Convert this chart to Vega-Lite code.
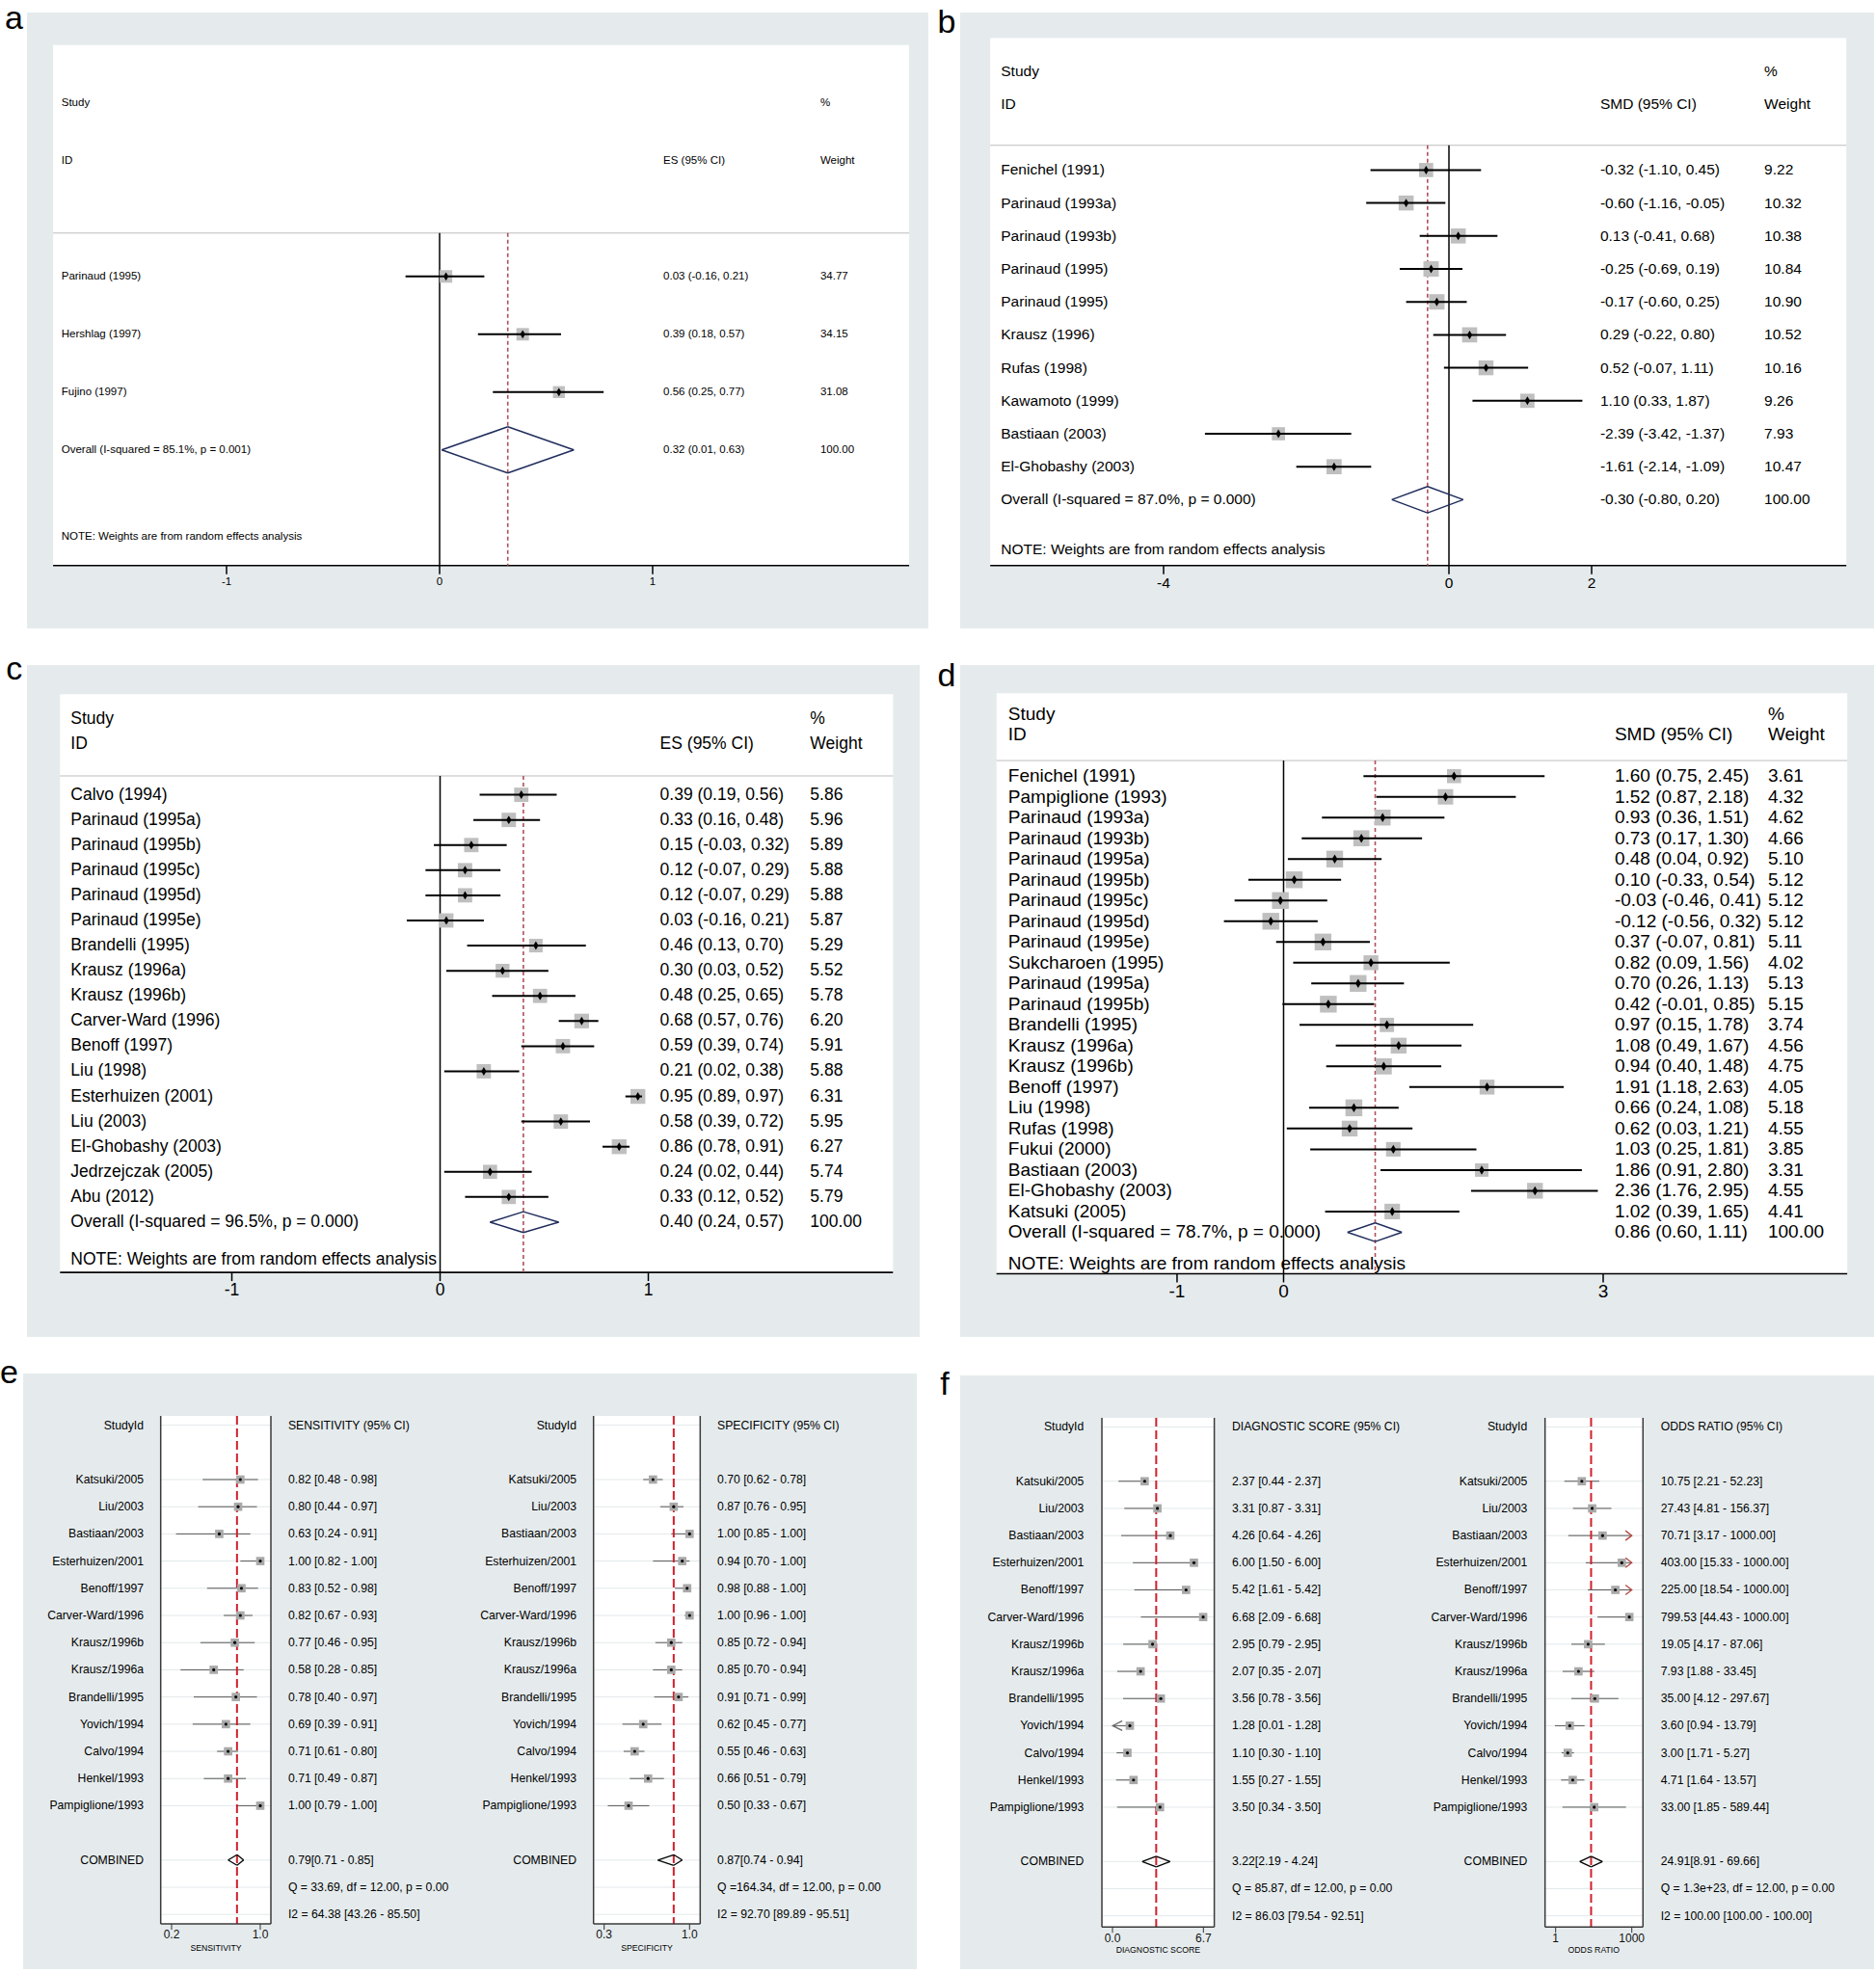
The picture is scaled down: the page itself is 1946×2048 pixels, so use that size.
{
"$schema":"https://vega.github.io/schema/vega-lite/v6.json",
"usermeta":{"embedOptions":{"actions":false}},
"background":"white",
"padding":0,
"config":{"view":{"stroke":null,"fill":null},"font":"Liberation Sans","text":{"font":"Liberation Sans"}},
"spacing":20,
"resolve":{"scale":{"size":"independent"}},
"datasets":{
"pa":[
{"row":-2,"c1":"Study","c3":"%"},
{"row":-1,"c1":"ID","c2":"ES (95% CI)","c3":"Weight"},
{"row":1,"kind":"study","c1":"Parinaud (1995)","c2":"0.03 (-0.16, 0.21)","c3":"34.77","es":0.03,"lo":-0.16,"hi":0.21,"w":34.77},
{"row":2,"kind":"study","c1":"Hershlag (1997)","c2":"0.39 (0.18, 0.57)","c3":"34.15","es":0.39,"lo":0.18,"hi":0.57,"w":34.15},
{"row":3,"kind":"study","c1":"Fujino (1997)","c2":"0.56 (0.25, 0.77)","c3":"31.08","es":0.56,"lo":0.25,"hi":0.77,"w":31.08},
{"row":4,"kind":"overall","c1":"Overall  (I-squared = 85.1%, p = 0.001)","c2":"0.32 (0.01, 0.63)","c3":"100.00","es":0.32,"lo":0.01,"hi":0.63},
{"row":5.5,"c1":"NOTE: Weights are from random effects analysis"}
],
"pb":[
{"row":-2,"c1":"Study","c3":"%"},
{"row":-1,"c1":"ID","c2":"SMD (95% CI)","c3":"Weight"},
{"row":1,"kind":"study","c1":"Fenichel (1991)","c2":"-0.32 (-1.10, 0.45)","c3":"9.22","es":-0.32,"lo":-1.10,"hi":0.45,"w":9.22},
{"row":2,"kind":"study","c1":"Parinaud (1993a)","c2":"-0.60 (-1.16, -0.05)","c3":"10.32","es":-0.60,"lo":-1.16,"hi":-0.05,"w":10.32},
{"row":3,"kind":"study","c1":"Parinaud (1993b)","c2":"0.13 (-0.41, 0.68)","c3":"10.38","es":0.13,"lo":-0.41,"hi":0.68,"w":10.38},
{"row":4,"kind":"study","c1":"Parinaud (1995)","c2":"-0.25 (-0.69, 0.19)","c3":"10.84","es":-0.25,"lo":-0.69,"hi":0.19,"w":10.84},
{"row":5,"kind":"study","c1":"Parinaud (1995)","c2":"-0.17 (-0.60, 0.25)","c3":"10.90","es":-0.17,"lo":-0.60,"hi":0.25,"w":10.90},
{"row":6,"kind":"study","c1":"Krausz (1996)","c2":"0.29 (-0.22, 0.80)","c3":"10.52","es":0.29,"lo":-0.22,"hi":0.80,"w":10.52},
{"row":7,"kind":"study","c1":"Rufas (1998)","c2":"0.52 (-0.07, 1.11)","c3":"10.16","es":0.52,"lo":-0.07,"hi":1.11,"w":10.16},
{"row":8,"kind":"study","c1":"Kawamoto (1999)","c2":"1.10 (0.33, 1.87)","c3":"9.26","es":1.10,"lo":0.33,"hi":1.87,"w":9.26},
{"row":9,"kind":"study","c1":"Bastiaan (2003)","c2":"-2.39 (-3.42, -1.37)","c3":"7.93","es":-2.39,"lo":-3.42,"hi":-1.37,"w":7.93},
{"row":10,"kind":"study","c1":"El-Ghobashy (2003)","c2":"-1.61 (-2.14, -1.09)","c3":"10.47","es":-1.61,"lo":-2.14,"hi":-1.09,"w":10.47},
{"row":11,"kind":"overall","c1":"Overall  (I-squared = 87.0%, p = 0.000)","c2":"-0.30 (-0.80, 0.20)","c3":"100.00","es":-0.30,"lo":-0.80,"hi":0.20},
{"row":12.5,"c1":"NOTE: Weights are from random effects analysis"}
],
"pc":[
{"row":-2,"c1":"Study","c3":"%"},
{"row":-1,"c1":"ID","c2":"ES (95% CI)","c3":"Weight"},
{"row":1,"kind":"study","c1":"Calvo (1994)","c2":"0.39 (0.19, 0.56)","c3":"5.86","es":0.39,"lo":0.19,"hi":0.56,"w":5.86},
{"row":2,"kind":"study","c1":"Parinaud (1995a)","c2":"0.33 (0.16, 0.48)","c3":"5.96","es":0.33,"lo":0.16,"hi":0.48,"w":5.96},
{"row":3,"kind":"study","c1":"Parinaud (1995b)","c2":"0.15 (-0.03, 0.32)","c3":"5.89","es":0.15,"lo":-0.03,"hi":0.32,"w":5.89},
{"row":4,"kind":"study","c1":"Parinaud (1995c)","c2":"0.12 (-0.07, 0.29)","c3":"5.88","es":0.12,"lo":-0.07,"hi":0.29,"w":5.88},
{"row":5,"kind":"study","c1":"Parinaud (1995d)","c2":"0.12 (-0.07, 0.29)","c3":"5.88","es":0.12,"lo":-0.07,"hi":0.29,"w":5.88},
{"row":6,"kind":"study","c1":"Parinaud (1995e)","c2":"0.03 (-0.16, 0.21)","c3":"5.87","es":0.03,"lo":-0.16,"hi":0.21,"w":5.87},
{"row":7,"kind":"study","c1":"Brandelli (1995)","c2":"0.46 (0.13, 0.70)","c3":"5.29","es":0.46,"lo":0.13,"hi":0.70,"w":5.29},
{"row":8,"kind":"study","c1":"Krausz (1996a)","c2":"0.30 (0.03, 0.52)","c3":"5.52","es":0.30,"lo":0.03,"hi":0.52,"w":5.52},
{"row":9,"kind":"study","c1":"Krausz (1996b)","c2":"0.48 (0.25, 0.65)","c3":"5.78","es":0.48,"lo":0.25,"hi":0.65,"w":5.78},
{"row":10,"kind":"study","c1":"Carver-Ward (1996)","c2":"0.68 (0.57, 0.76)","c3":"6.20","es":0.68,"lo":0.57,"hi":0.76,"w":6.20},
{"row":11,"kind":"study","c1":"Benoff (1997)","c2":"0.59 (0.39, 0.74)","c3":"5.91","es":0.59,"lo":0.39,"hi":0.74,"w":5.91},
{"row":12,"kind":"study","c1":"Liu (1998)","c2":"0.21 (0.02, 0.38)","c3":"5.88","es":0.21,"lo":0.02,"hi":0.38,"w":5.88},
{"row":13,"kind":"study","c1":"Esterhuizen (2001)","c2":"0.95 (0.89, 0.97)","c3":"6.31","es":0.95,"lo":0.89,"hi":0.97,"w":6.31},
{"row":14,"kind":"study","c1":"Liu (2003)","c2":"0.58 (0.39, 0.72)","c3":"5.95","es":0.58,"lo":0.39,"hi":0.72,"w":5.95},
{"row":15,"kind":"study","c1":"El-Ghobashy (2003)","c2":"0.86 (0.78, 0.91)","c3":"6.27","es":0.86,"lo":0.78,"hi":0.91,"w":6.27},
{"row":16,"kind":"study","c1":"Jedrzejczak (2005)","c2":"0.24 (0.02, 0.44)","c3":"5.74","es":0.24,"lo":0.02,"hi":0.44,"w":5.74},
{"row":17,"kind":"study","c1":"Abu (2012)","c2":"0.33 (0.12, 0.52)","c3":"5.79","es":0.33,"lo":0.12,"hi":0.52,"w":5.79},
{"row":18,"kind":"overall","c1":"Overall  (I-squared = 96.5%, p = 0.000)","c2":"0.40 (0.24, 0.57)","c3":"100.00","es":0.40,"lo":0.24,"hi":0.57},
{"row":19.5,"c1":"NOTE: Weights are from random effects analysis"}
],
"pd":[
{"row":-2,"c1":"Study","c3":"%"},
{"row":-1,"c1":"ID","c2":"SMD (95% CI)","c3":"Weight"},
{"row":1,"kind":"study","c1":"Fenichel (1991)","c2":"1.60 (0.75, 2.45)","c3":"3.61","es":1.60,"lo":0.75,"hi":2.45,"w":3.61},
{"row":2,"kind":"study","c1":"Pampiglione (1993)","c2":"1.52 (0.87, 2.18)","c3":"4.32","es":1.52,"lo":0.87,"hi":2.18,"w":4.32},
{"row":3,"kind":"study","c1":"Parinaud (1993a)","c2":"0.93 (0.36, 1.51)","c3":"4.62","es":0.93,"lo":0.36,"hi":1.51,"w":4.62},
{"row":4,"kind":"study","c1":"Parinaud (1993b)","c2":"0.73 (0.17, 1.30)","c3":"4.66","es":0.73,"lo":0.17,"hi":1.30,"w":4.66},
{"row":5,"kind":"study","c1":"Parinaud (1995a)","c2":"0.48 (0.04, 0.92)","c3":"5.10","es":0.48,"lo":0.04,"hi":0.92,"w":5.10},
{"row":6,"kind":"study","c1":"Parinaud (1995b)","c2":"0.10 (-0.33, 0.54)","c3":"5.12","es":0.10,"lo":-0.33,"hi":0.54,"w":5.12},
{"row":7,"kind":"study","c1":"Parinaud (1995c)","c2":"-0.03 (-0.46, 0.41)","c3":"5.12","es":-0.03,"lo":-0.46,"hi":0.41,"w":5.12},
{"row":8,"kind":"study","c1":"Parinaud (1995d)","c2":"-0.12 (-0.56, 0.32)","c3":"5.12","es":-0.12,"lo":-0.56,"hi":0.32,"w":5.12},
{"row":9,"kind":"study","c1":"Parinaud (1995e)","c2":"0.37 (-0.07, 0.81)","c3":"5.11","es":0.37,"lo":-0.07,"hi":0.81,"w":5.11},
{"row":10,"kind":"study","c1":"Sukcharoen (1995)","c2":"0.82 (0.09, 1.56)","c3":"4.02","es":0.82,"lo":0.09,"hi":1.56,"w":4.02},
{"row":11,"kind":"study","c1":"Parinaud (1995a)","c2":"0.70 (0.26, 1.13)","c3":"5.13","es":0.70,"lo":0.26,"hi":1.13,"w":5.13},
{"row":12,"kind":"study","c1":"Parinaud (1995b)","c2":"0.42 (-0.01, 0.85)","c3":"5.15","es":0.42,"lo":-0.01,"hi":0.85,"w":5.15},
{"row":13,"kind":"study","c1":"Brandelli (1995)","c2":"0.97 (0.15, 1.78)","c3":"3.74","es":0.97,"lo":0.15,"hi":1.78,"w":3.74},
{"row":14,"kind":"study","c1":"Krausz (1996a)","c2":"1.08 (0.49, 1.67)","c3":"4.56","es":1.08,"lo":0.49,"hi":1.67,"w":4.56},
{"row":15,"kind":"study","c1":"Krausz (1996b)","c2":"0.94 (0.40, 1.48)","c3":"4.75","es":0.94,"lo":0.40,"hi":1.48,"w":4.75},
{"row":16,"kind":"study","c1":"Benoff (1997)","c2":"1.91 (1.18, 2.63)","c3":"4.05","es":1.91,"lo":1.18,"hi":2.63,"w":4.05},
{"row":17,"kind":"study","c1":"Liu (1998)","c2":"0.66 (0.24, 1.08)","c3":"5.18","es":0.66,"lo":0.24,"hi":1.08,"w":5.18},
{"row":18,"kind":"study","c1":"Rufas (1998)","c2":"0.62 (0.03, 1.21)","c3":"4.55","es":0.62,"lo":0.03,"hi":1.21,"w":4.55},
{"row":19,"kind":"study","c1":"Fukui (2000)","c2":"1.03 (0.25, 1.81)","c3":"3.85","es":1.03,"lo":0.25,"hi":1.81,"w":3.85},
{"row":20,"kind":"study","c1":"Bastiaan (2003)","c2":"1.86 (0.91, 2.80)","c3":"3.31","es":1.86,"lo":0.91,"hi":2.80,"w":3.31},
{"row":21,"kind":"study","c1":"El-Ghobashy (2003)","c2":"2.36 (1.76, 2.95)","c3":"4.55","es":2.36,"lo":1.76,"hi":2.95,"w":4.55},
{"row":22,"kind":"study","c1":"Katsuki (2005)","c2":"1.02 (0.39, 1.65)","c3":"4.41","es":1.02,"lo":0.39,"hi":1.65,"w":4.41},
{"row":23,"kind":"overall","c1":"Overall  (I-squared = 78.7%, p = 0.000)","c2":"0.86 (0.60, 1.11)","c3":"100.00","es":0.86,"lo":0.60,"hi":1.11},
{"row":24.5,"c1":"NOTE: Weights are from random effects analysis"}
],
"sens":[
{"row":0,"c1":"StudyId","c2":"SENSITIVITY (95% CI)"},
{"row":2,"kind":"study","c1":"Katsuki/2005","c2":"0.82 [0.48 - 0.98]","est":0.82,"lo":0.48,"hi":0.98},
{"row":3,"kind":"study","c1":"Liu/2003","c2":"0.80 [0.44 - 0.97]","est":0.80,"lo":0.44,"hi":0.97},
{"row":4,"kind":"study","c1":"Bastiaan/2003","c2":"0.63 [0.24 - 0.91]","est":0.63,"lo":0.24,"hi":0.91},
{"row":5,"kind":"study","c1":"Esterhuizen/2001","c2":"1.00 [0.82 - 1.00]","est":1.00,"lo":0.82,"hi":1.00},
{"row":6,"kind":"study","c1":"Benoff/1997","c2":"0.83 [0.52 - 0.98]","est":0.83,"lo":0.52,"hi":0.98},
{"row":7,"kind":"study","c1":"Carver-Ward/1996","c2":"0.82 [0.67 - 0.93]","est":0.82,"lo":0.67,"hi":0.93},
{"row":8,"kind":"study","c1":"Krausz/1996b","c2":"0.77 [0.46 - 0.95]","est":0.77,"lo":0.46,"hi":0.95},
{"row":9,"kind":"study","c1":"Krausz/1996a","c2":"0.58 [0.28 - 0.85]","est":0.58,"lo":0.28,"hi":0.85},
{"row":10,"kind":"study","c1":"Brandelli/1995","c2":"0.78 [0.40 - 0.97]","est":0.78,"lo":0.40,"hi":0.97},
{"row":11,"kind":"study","c1":"Yovich/1994","c2":"0.69 [0.39 - 0.91]","est":0.69,"lo":0.39,"hi":0.91},
{"row":12,"kind":"study","c1":"Calvo/1994","c2":"0.71 [0.61 - 0.80]","est":0.71,"lo":0.61,"hi":0.80},
{"row":13,"kind":"study","c1":"Henkel/1993","c2":"0.71 [0.49 - 0.87]","est":0.71,"lo":0.49,"hi":0.87},
{"row":14,"kind":"study","c1":"Pampiglione/1993","c2":"1.00 [0.79 - 1.00]","est":1.00,"lo":0.79,"hi":1.00},
{"row":16,"kind":"combined","c1":"COMBINED","c2":"0.79[0.71 - 0.85]","est":0.79,"lo":0.71,"hi":0.85},
{"row":17,"c2":"Q = 33.69, df = 12.00, p =  0.00"},
{"row":18,"c2":"I2 = 64.38 [43.26 - 85.50]"}
],
"spec":[
{"row":0,"c1":"StudyId","c2":"SPECIFICITY (95% CI)"},
{"row":2,"kind":"study","c1":"Katsuki/2005","c2":"0.70 [0.62 - 0.78]","est":0.70,"lo":0.62,"hi":0.78},
{"row":3,"kind":"study","c1":"Liu/2003","c2":"0.87 [0.76 - 0.95]","est":0.87,"lo":0.76,"hi":0.95},
{"row":4,"kind":"study","c1":"Bastiaan/2003","c2":"1.00 [0.85 - 1.00]","est":1.00,"lo":0.85,"hi":1.00},
{"row":5,"kind":"study","c1":"Esterhuizen/2001","c2":"0.94 [0.70 - 1.00]","est":0.94,"lo":0.70,"hi":1.00},
{"row":6,"kind":"study","c1":"Benoff/1997","c2":"0.98 [0.88 - 1.00]","est":0.98,"lo":0.88,"hi":1.00},
{"row":7,"kind":"study","c1":"Carver-Ward/1996","c2":"1.00 [0.96 - 1.00]","est":1.00,"lo":0.96,"hi":1.00},
{"row":8,"kind":"study","c1":"Krausz/1996b","c2":"0.85 [0.72 - 0.94]","est":0.85,"lo":0.72,"hi":0.94},
{"row":9,"kind":"study","c1":"Krausz/1996a","c2":"0.85 [0.70 - 0.94]","est":0.85,"lo":0.70,"hi":0.94},
{"row":10,"kind":"study","c1":"Brandelli/1995","c2":"0.91 [0.71 - 0.99]","est":0.91,"lo":0.71,"hi":0.99},
{"row":11,"kind":"study","c1":"Yovich/1994","c2":"0.62 [0.45 - 0.77]","est":0.62,"lo":0.45,"hi":0.77},
{"row":12,"kind":"study","c1":"Calvo/1994","c2":"0.55 [0.46 - 0.63]","est":0.55,"lo":0.46,"hi":0.63},
{"row":13,"kind":"study","c1":"Henkel/1993","c2":"0.66 [0.51 - 0.79]","est":0.66,"lo":0.51,"hi":0.79},
{"row":14,"kind":"study","c1":"Pampiglione/1993","c2":"0.50 [0.33 - 0.67]","est":0.50,"lo":0.33,"hi":0.67},
{"row":16,"kind":"combined","c1":"COMBINED","c2":"0.87[0.74 - 0.94]","est":0.87,"lo":0.74,"hi":0.94},
{"row":17,"c2":"Q =164.34, df = 12.00, p =  0.00"},
{"row":18,"c2":"I2 = 92.70 [89.89 - 95.51]"}
],
"diag":[
{"row":0,"c1":"StudyId","c2":"DIAGNOSTIC SCORE (95% CI)"},
{"row":2,"kind":"study","c1":"Katsuki/2005","c2":"2.37 [0.44 - 2.37]","est":2.37,"lo":0.44,"hi":2.37},
{"row":3,"kind":"study","c1":"Liu/2003","c2":"3.31 [0.87 - 3.31]","est":3.31,"lo":0.87,"hi":3.31},
{"row":4,"kind":"study","c1":"Bastiaan/2003","c2":"4.26 [0.64 - 4.26]","est":4.26,"lo":0.64,"hi":4.26},
{"row":5,"kind":"study","c1":"Esterhuizen/2001","c2":"6.00 [1.50 - 6.00]","est":6.00,"lo":1.50,"hi":6.00},
{"row":6,"kind":"study","c1":"Benoff/1997","c2":"5.42 [1.61 - 5.42]","est":5.42,"lo":1.61,"hi":5.42},
{"row":7,"kind":"study","c1":"Carver-Ward/1996","c2":"6.68 [2.09 - 6.68]","est":6.68,"lo":2.09,"hi":6.68},
{"row":8,"kind":"study","c1":"Krausz/1996b","c2":"2.95 [0.79 - 2.95]","est":2.95,"lo":0.79,"hi":2.95},
{"row":9,"kind":"study","c1":"Krausz/1996a","c2":"2.07 [0.35 - 2.07]","est":2.07,"lo":0.35,"hi":2.07},
{"row":10,"kind":"study","c1":"Brandelli/1995","c2":"3.56 [0.78 - 3.56]","est":3.56,"lo":0.78,"hi":3.56},
{"row":11,"kind":"study","c1":"Yovich/1994","c2":"1.28 [0.01 - 1.28]","est":1.28,"lo":0.01,"hi":1.28,"arrowL":true},
{"row":12,"kind":"study","c1":"Calvo/1994","c2":"1.10 [0.30 - 1.10]","est":1.10,"lo":0.30,"hi":1.10},
{"row":13,"kind":"study","c1":"Henkel/1993","c2":"1.55 [0.27 - 1.55]","est":1.55,"lo":0.27,"hi":1.55},
{"row":14,"kind":"study","c1":"Pampiglione/1993","c2":"3.50 [0.34 - 3.50]","est":3.50,"lo":0.34,"hi":3.50},
{"row":16,"kind":"combined","c1":"COMBINED","c2":"3.22[2.19 - 4.24]","est":3.22,"lo":2.19,"hi":4.24},
{"row":17,"c2":"Q = 85.87, df = 12.00, p =  0.00"},
{"row":18,"c2":"I2 = 86.03 [79.54 - 92.51]"}
],
"odds":[
{"row":0,"c1":"StudyId","c2":"ODDS RATIO (95% CI)"},
{"row":2,"kind":"study","c1":"Katsuki/2005","c2":"10.75 [2.21 - 52.23]","est":10.75,"lo":2.21,"hi":52.23},
{"row":3,"kind":"study","c1":"Liu/2003","c2":"27.43 [4.81 - 156.37]","est":27.43,"lo":4.81,"hi":156.37},
{"row":4,"kind":"study","c1":"Bastiaan/2003","c2":"70.71 [3.17 - 1000.00]","est":70.71,"lo":3.17,"hi":1000,"arrowR":true},
{"row":5,"kind":"study","c1":"Esterhuizen/2001","c2":"403.00 [15.33 - 1000.00]","est":403.0,"lo":15.33,"hi":1000,"arrowR":true},
{"row":6,"kind":"study","c1":"Benoff/1997","c2":"225.00 [18.54 - 1000.00]","est":225.0,"lo":18.54,"hi":1000,"arrowR":true},
{"row":7,"kind":"study","c1":"Carver-Ward/1996","c2":"799.53 [44.43 - 1000.00]","est":799.53,"lo":44.43,"hi":1000},
{"row":8,"kind":"study","c1":"Krausz/1996b","c2":"19.05 [4.17 - 87.06]","est":19.05,"lo":4.17,"hi":87.06},
{"row":9,"kind":"study","c1":"Krausz/1996a","c2":"7.93 [1.88 - 33.45]","est":7.93,"lo":1.88,"hi":33.45},
{"row":10,"kind":"study","c1":"Brandelli/1995","c2":"35.00 [4.12 - 297.67]","est":35.0,"lo":4.12,"hi":297.67},
{"row":11,"kind":"study","c1":"Yovich/1994","c2":"3.60 [0.94 - 13.79]","est":3.60,"lo":0.94,"hi":13.79},
{"row":12,"kind":"study","c1":"Calvo/1994","c2":"3.00 [1.71 - 5.27]","est":3.00,"lo":1.71,"hi":5.27},
{"row":13,"kind":"study","c1":"Henkel/1993","c2":"4.71 [1.64 - 13.57]","est":4.71,"lo":1.64,"hi":13.57},
{"row":14,"kind":"study","c1":"Pampiglione/1993","c2":"33.00 [1.85 - 589.44]","est":33.0,"lo":1.85,"hi":589.44},
{"row":16,"kind":"combined","c1":"COMBINED","c2":"24.91[8.91 - 69.66]","est":24.91,"lo":8.91,"hi":69.66},
{"row":17,"c2":"Q = 1.3e+23, df = 12.00, p =  0.00"},
{"row":18,"c2":"I2 = 100.00 [100.00 - 100.00]"}
]
},
"vconcat":[
{"hconcat":[
{"width":962,"height":652,"data":{"name":"pa"},"layer":[
{"data":{"values":[{}]},"mark":{"type":"rect","fill":"#e5ebed"},"encoding":{"x":{"datum":-1.9367,"type":"quantitative","scale":{"domain":[-2.0588,2.2941],"nice":false,"zero":false},"axis":null},"x2":{"datum":2.2941},"y":{"datum":-3.563,"type":"quantitative","scale":{"domain":[-3.78,7.087],"nice":false,"zero":false,"reverse":true},"axis":null},"y2":{"datum":7.087}}},
{"data":{"values":[{"l":"a"}]},"mark":{"type":"text","fontSize":34,"baseline":"alphabetic","align":"center","color":"black"},"encoding":{"x":{"datum":-1.998,"type":"quantitative","scale":{"domain":[-2.0588,2.2941],"nice":false,"zero":false},"axis":null},"y":{"datum":-3.28,"type":"quantitative","scale":{"domain":[-3.78,7.087],"nice":false,"zero":false,"reverse":true},"axis":null},"text":{"field":"l","type":"nominal"}}},
{"data":{"values":[{}]},"mark":{"type":"rect","fill":"white"},"encoding":{"x":{"datum":-1.814,"type":"quantitative","scale":{"domain":[-2.0588,2.2941],"nice":false,"zero":false},"axis":null},"x2":{"datum":2.204},"y":{"datum":-3,"type":"quantitative","scale":{"domain":[-3.78,7.087],"nice":false,"zero":false,"reverse":true},"axis":null},"y2":{"datum":6}}},
{"data":{"values":[{}]},"mark":{"type":"rule","color":"#bdbdbd","strokeWidth":1},"encoding":{"x":{"datum":-1.814,"type":"quantitative","scale":{"domain":[-2.0588,2.2941],"nice":false,"zero":false},"axis":null},"x2":{"datum":2.204},"y":{"datum":0.25,"type":"quantitative","scale":{"domain":[-3.78,7.087],"nice":false,"zero":false,"reverse":true},"axis":null}}},
{"data":{"values":[{}]},"mark":{"type":"rule","color":"black","strokeWidth":1.6},"encoding":{"x":{"datum":-1.814,"type":"quantitative","scale":{"domain":[-2.0588,2.2941],"nice":false,"zero":false},"axis":null},"x2":{"datum":2.204},"y":{"datum":6,"type":"quantitative","scale":{"domain":[-3.78,7.087],"nice":false,"zero":false,"reverse":true},"axis":null}}},
{"data":{"values":[{"v":-1,"l":"-1"},{"v":0,"l":"0"},{"v":1,"l":"1"}]},"mark":{"type":"rule","color":"black","strokeWidth":1.5,"y2Offset":9},"encoding":{"x":{"field":"v","type":"quantitative","scale":{"domain":[-2.0588,2.2941],"nice":false,"zero":false},"axis":null},"y":{"datum":6,"type":"quantitative","scale":{"domain":[-3.78,7.087],"nice":false,"zero":false,"reverse":true},"axis":null},"y2":{"datum":6}}},
{"data":{"values":[{"v":-1,"l":"-1"},{"v":0,"l":"0"},{"v":1,"l":"1"}]},"mark":{"type":"text","baseline":"top","align":"center","dy":11,"fontSize":11.5,"color":"black"},"encoding":{"x":{"field":"v","type":"quantitative","scale":{"domain":[-2.0588,2.2941],"nice":false,"zero":false},"axis":null},"y":{"datum":6,"type":"quantitative","scale":{"domain":[-3.78,7.087],"nice":false,"zero":false,"reverse":true},"axis":null},"text":{"field":"l","type":"nominal"}}},
{"data":{"values":[{}]},"mark":{"type":"rule","color":"black","strokeWidth":1.5},"encoding":{"x":{"datum":0,"type":"quantitative","scale":{"domain":[-2.0588,2.2941],"nice":false,"zero":false},"axis":null},"y":{"datum":0.25,"type":"quantitative","scale":{"domain":[-3.78,7.087],"nice":false,"zero":false,"reverse":true},"axis":null},"y2":{"datum":6}}},
{"data":{"values":[{}]},"mark":{"type":"rule","color":"#b0505a","strokeWidth":1.6,"strokeDash":[4,3]},"encoding":{"x":{"datum":0.32,"type":"quantitative","scale":{"domain":[-2.0588,2.2941],"nice":false,"zero":false},"axis":null},"y":{"datum":0.25,"type":"quantitative","scale":{"domain":[-3.78,7.087],"nice":false,"zero":false,"reverse":true},"axis":null},"y2":{"datum":6}}},
{"transform":[{"filter":"datum.kind === 'study'"}],"mark":{"type":"square","filled":true,"color":"#bfbfbf","opacity":1},"encoding":{"x":{"field":"es","type":"quantitative","scale":{"domain":[-2.0588,2.2941],"nice":false,"zero":false},"axis":null},"y":{"field":"row","type":"quantitative","scale":{"domain":[-3.78,7.087],"nice":false,"zero":false,"reverse":true},"axis":null},"size":{"field":"w","type":"quantitative","scale":{"domain":[0,35],"range":[0,172]},"legend":null}}},
{"transform":[{"filter":"datum.kind === 'study'"}],"mark":{"type":"rule","color":"black","strokeWidth":2},"encoding":{"x":{"field":"lo","type":"quantitative","scale":{"domain":[-2.0588,2.2941],"nice":false,"zero":false},"axis":null},"x2":{"field":"hi"},"y":{"field":"row","type":"quantitative","scale":{"domain":[-3.78,7.087],"nice":false,"zero":false,"reverse":true},"axis":null}}},
{"transform":[{"filter":"datum.kind === 'study'"}],"mark":{"type":"point","shape":"M0,-1L0.6,0L0,1L-0.6,0Z","filled":true,"color":"black","size":76,"opacity":1},"encoding":{"x":{"field":"es","type":"quantitative","scale":{"domain":[-2.0588,2.2941],"nice":false,"zero":false},"axis":null},"y":{"field":"row","type":"quantitative","scale":{"domain":[-3.78,7.087],"nice":false,"zero":false,"reverse":true},"axis":null}}},
{"transform":[{"filter":"datum.kind === 'overall'"}],"mark":{"type":"rule","color":"#1f2d5c","strokeWidth":1.5,"y2Offset":-24},"encoding":{"x":{"field":"lo","type":"quantitative","scale":{"domain":[-2.0588,2.2941],"nice":false,"zero":false},"axis":null},"x2":{"field":"es"},"y":{"field":"row","type":"quantitative","scale":{"domain":[-3.78,7.087],"nice":false,"zero":false,"reverse":true},"axis":null},"y2":{"field":"row"}}},
{"transform":[{"filter":"datum.kind === 'overall'"}],"mark":{"type":"rule","color":"#1f2d5c","strokeWidth":1.5,"y2Offset":24},"encoding":{"x":{"field":"lo","type":"quantitative","scale":{"domain":[-2.0588,2.2941],"nice":false,"zero":false},"axis":null},"x2":{"field":"es"},"y":{"field":"row","type":"quantitative","scale":{"domain":[-3.78,7.087],"nice":false,"zero":false,"reverse":true},"axis":null},"y2":{"field":"row"}}},
{"transform":[{"filter":"datum.kind === 'overall'"}],"mark":{"type":"rule","color":"#1f2d5c","strokeWidth":1.5,"y2Offset":-24},"encoding":{"x":{"field":"hi","type":"quantitative","scale":{"domain":[-2.0588,2.2941],"nice":false,"zero":false},"axis":null},"x2":{"field":"es"},"y":{"field":"row","type":"quantitative","scale":{"domain":[-3.78,7.087],"nice":false,"zero":false,"reverse":true},"axis":null},"y2":{"field":"row"}}},
{"transform":[{"filter":"datum.kind === 'overall'"}],"mark":{"type":"rule","color":"#1f2d5c","strokeWidth":1.5,"y2Offset":24},"encoding":{"x":{"field":"hi","type":"quantitative","scale":{"domain":[-2.0588,2.2941],"nice":false,"zero":false},"axis":null},"x2":{"field":"es"},"y":{"field":"row","type":"quantitative","scale":{"domain":[-3.78,7.087],"nice":false,"zero":false,"reverse":true},"axis":null},"y2":{"field":"row"}}},
{"transform":[{"filter":"isValid(datum.c1)"}],"mark":{"type":"text","align":"left","baseline":"middle","fontSize":11.5,"color":"black"},"encoding":{"x":{"datum":-1.775,"type":"quantitative","scale":{"domain":[-2.0588,2.2941],"nice":false,"zero":false},"axis":null},"y":{"field":"row","type":"quantitative","scale":{"domain":[-3.78,7.087],"nice":false,"zero":false,"reverse":true},"axis":null},"text":{"field":"c1","type":"nominal"}}},
{"transform":[{"filter":"isValid(datum.c2)"}],"mark":{"type":"text","align":"left","baseline":"middle","fontSize":11.5,"color":"black"},"encoding":{"x":{"datum":1.05,"type":"quantitative","scale":{"domain":[-2.0588,2.2941],"nice":false,"zero":false},"axis":null},"y":{"field":"row","type":"quantitative","scale":{"domain":[-3.78,7.087],"nice":false,"zero":false,"reverse":true},"axis":null},"text":{"field":"c2","type":"nominal"}}},
{"transform":[{"filter":"isValid(datum.c3)"}],"mark":{"type":"text","align":"left","baseline":"middle","fontSize":11.5,"color":"black"},"encoding":{"x":{"datum":1.787,"type":"quantitative","scale":{"domain":[-2.0588,2.2941],"nice":false,"zero":false},"axis":null},"y":{"field":"row","type":"quantitative","scale":{"domain":[-3.78,7.087],"nice":false,"zero":false,"reverse":true},"axis":null},"text":{"field":"c3","type":"nominal"}}}
]},
{"width":981,"height":652,"data":{"name":"pb"},"layer":[
{"data":{"values":[{}]},"mark":{"type":"rect","fill":"#e5ebed"},"encoding":{"x":{"datum":-6.851,"type":"quantitative","scale":{"domain":[-7.297,5.959],"nice":false,"zero":false},"axis":null},"x2":{"datum":5.959},"y":{"datum":-3.778,"type":"quantitative","scale":{"domain":[-4.158,14.906],"nice":false,"zero":false,"reverse":true},"axis":null},"y2":{"datum":14.906}}},
{"data":{"values":[{"l":"b"}]},"mark":{"type":"text","fontSize":34,"baseline":"alphabetic","align":"center","color":"black"},"encoding":{"x":{"datum":-7.041,"type":"quantitative","scale":{"domain":[-7.297,5.959],"nice":false,"zero":false},"axis":null},"y":{"datum":-3.164,"type":"quantitative","scale":{"domain":[-4.158,14.906],"nice":false,"zero":false,"reverse":true},"axis":null},"text":{"field":"l","type":"nominal"}}},
{"data":{"values":[{}]},"mark":{"type":"rect","fill":"white"},"encoding":{"x":{"datum":-6.43,"type":"quantitative","scale":{"domain":[-7.297,5.959],"nice":false,"zero":false},"axis":null},"x2":{"datum":5.57},"y":{"datum":-3,"type":"quantitative","scale":{"domain":[-4.158,14.906],"nice":false,"zero":false,"reverse":true},"axis":null},"y2":{"datum":13}}},
{"data":{"values":[{}]},"mark":{"type":"rule","color":"#bdbdbd","strokeWidth":1},"encoding":{"x":{"datum":-6.43,"type":"quantitative","scale":{"domain":[-7.297,5.959],"nice":false,"zero":false},"axis":null},"x2":{"datum":5.57},"y":{"datum":0.25,"type":"quantitative","scale":{"domain":[-4.158,14.906],"nice":false,"zero":false,"reverse":true},"axis":null}}},
{"data":{"values":[{}]},"mark":{"type":"rule","color":"black","strokeWidth":1.6},"encoding":{"x":{"datum":-6.43,"type":"quantitative","scale":{"domain":[-7.297,5.959],"nice":false,"zero":false},"axis":null},"x2":{"datum":5.57},"y":{"datum":13,"type":"quantitative","scale":{"domain":[-4.158,14.906],"nice":false,"zero":false,"reverse":true},"axis":null}}},
{"data":{"values":[{"v":-4,"l":"-4"},{"v":0,"l":"0"},{"v":2,"l":"2"}]},"mark":{"type":"rule","color":"black","strokeWidth":1.5,"y2Offset":9},"encoding":{"x":{"field":"v","type":"quantitative","scale":{"domain":[-7.297,5.959],"nice":false,"zero":false},"axis":null},"y":{"datum":13,"type":"quantitative","scale":{"domain":[-4.158,14.906],"nice":false,"zero":false,"reverse":true},"axis":null},"y2":{"datum":13}}},
{"data":{"values":[{"v":-4,"l":"-4"},{"v":0,"l":"0"},{"v":2,"l":"2"}]},"mark":{"type":"text","baseline":"top","align":"center","dy":11,"fontSize":15.5,"color":"black"},"encoding":{"x":{"field":"v","type":"quantitative","scale":{"domain":[-7.297,5.959],"nice":false,"zero":false},"axis":null},"y":{"datum":13,"type":"quantitative","scale":{"domain":[-4.158,14.906],"nice":false,"zero":false,"reverse":true},"axis":null},"text":{"field":"l","type":"nominal"}}},
{"data":{"values":[{}]},"mark":{"type":"rule","color":"black","strokeWidth":1.5},"encoding":{"x":{"datum":0,"type":"quantitative","scale":{"domain":[-7.297,5.959],"nice":false,"zero":false},"axis":null},"y":{"datum":0.25,"type":"quantitative","scale":{"domain":[-4.158,14.906],"nice":false,"zero":false,"reverse":true},"axis":null},"y2":{"datum":13}}},
{"data":{"values":[{}]},"mark":{"type":"rule","color":"#b0505a","strokeWidth":1.6,"strokeDash":[4,3]},"encoding":{"x":{"datum":-0.30,"type":"quantitative","scale":{"domain":[-7.297,5.959],"nice":false,"zero":false},"axis":null},"y":{"datum":0.25,"type":"quantitative","scale":{"domain":[-4.158,14.906],"nice":false,"zero":false,"reverse":true},"axis":null},"y2":{"datum":13}}},
{"transform":[{"filter":"datum.kind === 'study'"}],"mark":{"type":"square","filled":true,"color":"#bfbfbf","opacity":1},"encoding":{"x":{"field":"es","type":"quantitative","scale":{"domain":[-7.297,5.959],"nice":false,"zero":false},"axis":null},"y":{"field":"row","type":"quantitative","scale":{"domain":[-4.158,14.906],"nice":false,"zero":false,"reverse":true},"axis":null},"size":{"field":"w","type":"quantitative","scale":{"domain":[0,10],"range":[0,235]},"legend":null}}},
{"transform":[{"filter":"datum.kind === 'study'"}],"mark":{"type":"rule","color":"black","strokeWidth":2},"encoding":{"x":{"field":"lo","type":"quantitative","scale":{"domain":[-7.297,5.959],"nice":false,"zero":false},"axis":null},"x2":{"field":"hi"},"y":{"field":"row","type":"quantitative","scale":{"domain":[-4.158,14.906],"nice":false,"zero":false,"reverse":true},"axis":null}}},
{"transform":[{"filter":"datum.kind === 'study'"}],"mark":{"type":"point","shape":"M0,-1L0.6,0L0,1L-0.6,0Z","filled":true,"color":"black","size":80,"opacity":1},"encoding":{"x":{"field":"es","type":"quantitative","scale":{"domain":[-7.297,5.959],"nice":false,"zero":false},"axis":null},"y":{"field":"row","type":"quantitative","scale":{"domain":[-4.158,14.906],"nice":false,"zero":false,"reverse":true},"axis":null}}},
{"transform":[{"filter":"datum.kind === 'overall'"}],"mark":{"type":"rule","color":"#1f2d5c","strokeWidth":1.5,"y2Offset":-13.7},"encoding":{"x":{"field":"lo","type":"quantitative","scale":{"domain":[-7.297,5.959],"nice":false,"zero":false},"axis":null},"x2":{"field":"es"},"y":{"field":"row","type":"quantitative","scale":{"domain":[-4.158,14.906],"nice":false,"zero":false,"reverse":true},"axis":null},"y2":{"field":"row"}}},
{"transform":[{"filter":"datum.kind === 'overall'"}],"mark":{"type":"rule","color":"#1f2d5c","strokeWidth":1.5,"y2Offset":13.7},"encoding":{"x":{"field":"lo","type":"quantitative","scale":{"domain":[-7.297,5.959],"nice":false,"zero":false},"axis":null},"x2":{"field":"es"},"y":{"field":"row","type":"quantitative","scale":{"domain":[-4.158,14.906],"nice":false,"zero":false,"reverse":true},"axis":null},"y2":{"field":"row"}}},
{"transform":[{"filter":"datum.kind === 'overall'"}],"mark":{"type":"rule","color":"#1f2d5c","strokeWidth":1.5,"y2Offset":-13.7},"encoding":{"x":{"field":"hi","type":"quantitative","scale":{"domain":[-7.297,5.959],"nice":false,"zero":false},"axis":null},"x2":{"field":"es"},"y":{"field":"row","type":"quantitative","scale":{"domain":[-4.158,14.906],"nice":false,"zero":false,"reverse":true},"axis":null},"y2":{"field":"row"}}},
{"transform":[{"filter":"datum.kind === 'overall'"}],"mark":{"type":"rule","color":"#1f2d5c","strokeWidth":1.5,"y2Offset":13.7},"encoding":{"x":{"field":"hi","type":"quantitative","scale":{"domain":[-7.297,5.959],"nice":false,"zero":false},"axis":null},"x2":{"field":"es"},"y":{"field":"row","type":"quantitative","scale":{"domain":[-4.158,14.906],"nice":false,"zero":false,"reverse":true},"axis":null},"y2":{"field":"row"}}},
{"transform":[{"filter":"isValid(datum.c1)"}],"mark":{"type":"text","align":"left","baseline":"middle","fontSize":15.5,"color":"black"},"encoding":{"x":{"datum":-6.28,"type":"quantitative","scale":{"domain":[-7.297,5.959],"nice":false,"zero":false},"axis":null},"y":{"field":"row","type":"quantitative","scale":{"domain":[-4.158,14.906],"nice":false,"zero":false,"reverse":true},"axis":null},"text":{"field":"c1","type":"nominal"}}},
{"transform":[{"filter":"isValid(datum.c2)"}],"mark":{"type":"text","align":"left","baseline":"middle","fontSize":15.5,"color":"black"},"encoding":{"x":{"datum":2.12,"type":"quantitative","scale":{"domain":[-7.297,5.959],"nice":false,"zero":false},"axis":null},"y":{"field":"row","type":"quantitative","scale":{"domain":[-4.158,14.906],"nice":false,"zero":false,"reverse":true},"axis":null},"text":{"field":"c2","type":"nominal"}}},
{"transform":[{"filter":"isValid(datum.c3)"}],"mark":{"type":"text","align":"left","baseline":"middle","fontSize":15.5,"color":"black"},"encoding":{"x":{"datum":4.42,"type":"quantitative","scale":{"domain":[-7.297,5.959],"nice":false,"zero":false},"axis":null},"y":{"field":"row","type":"quantitative","scale":{"domain":[-4.158,14.906],"nice":false,"zero":false,"reverse":true},"axis":null},"text":{"field":"c3","type":"nominal"}}}
]}
],"spacing":0,"resolve":{"scale":{"size":"independent"}}},
{"hconcat":[
{"width":953,"height":715,"data":{"name":"pc"},"layer":[
{"data":{"values":[{}]},"mark":{"type":"rect","fill":"#e5ebed"},"encoding":{"x":{"datum":-1.9838,"type":"quantitative","scale":{"domain":[-2.1088,2.3032],"nice":false,"zero":false},"axis":null},"x2":{"datum":2.3032},"y":{"datum":-4.16,"type":"quantitative","scale":{"domain":[-4.85,22.565],"nice":false,"zero":false,"reverse":true},"axis":null},"y2":{"datum":22.565}}},
{"data":{"values":[{"l":"c"}]},"mark":{"type":"text","fontSize":34,"baseline":"alphabetic","align":"center","color":"black"},"encoding":{"x":{"datum":-2.0454,"type":"quantitative","scale":{"domain":[-2.1088,2.3032],"nice":false,"zero":false},"axis":null},"y":{"datum":-3.585,"type":"quantitative","scale":{"domain":[-4.85,22.565],"nice":false,"zero":false,"reverse":true},"axis":null},"text":{"field":"l","type":"nominal"}}},
{"data":{"values":[{}]},"mark":{"type":"rect","fill":"white"},"encoding":{"x":{"datum":-1.825,"type":"quantitative","scale":{"domain":[-2.1088,2.3032],"nice":false,"zero":false},"axis":null},"x2":{"datum":2.175},"y":{"datum":-3,"type":"quantitative","scale":{"domain":[-4.85,22.565],"nice":false,"zero":false,"reverse":true},"axis":null},"y2":{"datum":20}}},
{"data":{"values":[{}]},"mark":{"type":"rule","color":"#bdbdbd","strokeWidth":1},"encoding":{"x":{"datum":-1.825,"type":"quantitative","scale":{"domain":[-2.1088,2.3032],"nice":false,"zero":false},"axis":null},"x2":{"datum":2.175},"y":{"datum":0.25,"type":"quantitative","scale":{"domain":[-4.85,22.565],"nice":false,"zero":false,"reverse":true},"axis":null}}},
{"data":{"values":[{}]},"mark":{"type":"rule","color":"black","strokeWidth":1.6},"encoding":{"x":{"datum":-1.825,"type":"quantitative","scale":{"domain":[-2.1088,2.3032],"nice":false,"zero":false},"axis":null},"x2":{"datum":2.175},"y":{"datum":20,"type":"quantitative","scale":{"domain":[-4.85,22.565],"nice":false,"zero":false,"reverse":true},"axis":null}}},
{"data":{"values":[{"v":-1,"l":"-1"},{"v":0,"l":"0"},{"v":1,"l":"1"}]},"mark":{"type":"rule","color":"black","strokeWidth":1.5,"y2Offset":9},"encoding":{"x":{"field":"v","type":"quantitative","scale":{"domain":[-2.1088,2.3032],"nice":false,"zero":false},"axis":null},"y":{"datum":20,"type":"quantitative","scale":{"domain":[-4.85,22.565],"nice":false,"zero":false,"reverse":true},"axis":null},"y2":{"datum":20}}},
{"data":{"values":[{"v":-1,"l":"-1"},{"v":0,"l":"0"},{"v":1,"l":"1"}]},"mark":{"type":"text","baseline":"top","align":"center","dy":10,"fontSize":17.5,"color":"black"},"encoding":{"x":{"field":"v","type":"quantitative","scale":{"domain":[-2.1088,2.3032],"nice":false,"zero":false},"axis":null},"y":{"datum":20,"type":"quantitative","scale":{"domain":[-4.85,22.565],"nice":false,"zero":false,"reverse":true},"axis":null},"text":{"field":"l","type":"nominal"}}},
{"data":{"values":[{}]},"mark":{"type":"rule","color":"black","strokeWidth":1.5},"encoding":{"x":{"datum":0,"type":"quantitative","scale":{"domain":[-2.1088,2.3032],"nice":false,"zero":false},"axis":null},"y":{"datum":0.25,"type":"quantitative","scale":{"domain":[-4.85,22.565],"nice":false,"zero":false,"reverse":true},"axis":null},"y2":{"datum":20}}},
{"data":{"values":[{}]},"mark":{"type":"rule","color":"#b0505a","strokeWidth":1.6,"strokeDash":[4,3]},"encoding":{"x":{"datum":0.40,"type":"quantitative","scale":{"domain":[-2.1088,2.3032],"nice":false,"zero":false},"axis":null},"y":{"datum":0.25,"type":"quantitative","scale":{"domain":[-4.85,22.565],"nice":false,"zero":false,"reverse":true},"axis":null},"y2":{"datum":20}}},
{"transform":[{"filter":"datum.kind === 'study'"}],"mark":{"type":"square","filled":true,"color":"#bfbfbf","opacity":1},"encoding":{"x":{"field":"es","type":"quantitative","scale":{"domain":[-2.1088,2.3032],"nice":false,"zero":false},"axis":null},"y":{"field":"row","type":"quantitative","scale":{"domain":[-4.85,22.565],"nice":false,"zero":false,"reverse":true},"axis":null},"size":{"field":"w","type":"quantitative","scale":{"domain":[0,6],"range":[0,225]},"legend":null}}},
{"transform":[{"filter":"datum.kind === 'study'"}],"mark":{"type":"rule","color":"black","strokeWidth":2},"encoding":{"x":{"field":"lo","type":"quantitative","scale":{"domain":[-2.1088,2.3032],"nice":false,"zero":false},"axis":null},"x2":{"field":"hi"},"y":{"field":"row","type":"quantitative","scale":{"domain":[-4.85,22.565],"nice":false,"zero":false,"reverse":true},"axis":null}}},
{"transform":[{"filter":"datum.kind === 'study'"}],"mark":{"type":"point","shape":"M0,-1L0.6,0L0,1L-0.6,0Z","filled":true,"color":"black","size":80,"opacity":1},"encoding":{"x":{"field":"es","type":"quantitative","scale":{"domain":[-2.1088,2.3032],"nice":false,"zero":false},"axis":null},"y":{"field":"row","type":"quantitative","scale":{"domain":[-4.85,22.565],"nice":false,"zero":false,"reverse":true},"axis":null}}},
{"transform":[{"filter":"datum.kind === 'overall'"}],"mark":{"type":"rule","color":"#1f2d5c","strokeWidth":1.5,"y2Offset":-10.8},"encoding":{"x":{"field":"lo","type":"quantitative","scale":{"domain":[-2.1088,2.3032],"nice":false,"zero":false},"axis":null},"x2":{"field":"es"},"y":{"field":"row","type":"quantitative","scale":{"domain":[-4.85,22.565],"nice":false,"zero":false,"reverse":true},"axis":null},"y2":{"field":"row"}}},
{"transform":[{"filter":"datum.kind === 'overall'"}],"mark":{"type":"rule","color":"#1f2d5c","strokeWidth":1.5,"y2Offset":10.8},"encoding":{"x":{"field":"lo","type":"quantitative","scale":{"domain":[-2.1088,2.3032],"nice":false,"zero":false},"axis":null},"x2":{"field":"es"},"y":{"field":"row","type":"quantitative","scale":{"domain":[-4.85,22.565],"nice":false,"zero":false,"reverse":true},"axis":null},"y2":{"field":"row"}}},
{"transform":[{"filter":"datum.kind === 'overall'"}],"mark":{"type":"rule","color":"#1f2d5c","strokeWidth":1.5,"y2Offset":-10.8},"encoding":{"x":{"field":"hi","type":"quantitative","scale":{"domain":[-2.1088,2.3032],"nice":false,"zero":false},"axis":null},"x2":{"field":"es"},"y":{"field":"row","type":"quantitative","scale":{"domain":[-4.85,22.565],"nice":false,"zero":false,"reverse":true},"axis":null},"y2":{"field":"row"}}},
{"transform":[{"filter":"datum.kind === 'overall'"}],"mark":{"type":"rule","color":"#1f2d5c","strokeWidth":1.5,"y2Offset":10.8},"encoding":{"x":{"field":"hi","type":"quantitative","scale":{"domain":[-2.1088,2.3032],"nice":false,"zero":false},"axis":null},"x2":{"field":"es"},"y":{"field":"row","type":"quantitative","scale":{"domain":[-4.85,22.565],"nice":false,"zero":false,"reverse":true},"axis":null},"y2":{"field":"row"}}},
{"transform":[{"filter":"isValid(datum.c1)"}],"mark":{"type":"text","align":"left","baseline":"middle","fontSize":17.5,"color":"black"},"encoding":{"x":{"datum":-1.774,"type":"quantitative","scale":{"domain":[-2.1088,2.3032],"nice":false,"zero":false},"axis":null},"y":{"field":"row","type":"quantitative","scale":{"domain":[-4.85,22.565],"nice":false,"zero":false,"reverse":true},"axis":null},"text":{"field":"c1","type":"nominal"}}},
{"transform":[{"filter":"isValid(datum.c2)"}],"mark":{"type":"text","align":"left","baseline":"middle","fontSize":17.5,"color":"black"},"encoding":{"x":{"datum":1.056,"type":"quantitative","scale":{"domain":[-2.1088,2.3032],"nice":false,"zero":false},"axis":null},"y":{"field":"row","type":"quantitative","scale":{"domain":[-4.85,22.565],"nice":false,"zero":false,"reverse":true},"axis":null},"text":{"field":"c2","type":"nominal"}}},
{"transform":[{"filter":"isValid(datum.c3)"}],"mark":{"type":"text","align":"left","baseline":"middle","fontSize":17.5,"color":"black"},"encoding":{"x":{"datum":1.777,"type":"quantitative","scale":{"domain":[-2.1088,2.3032],"nice":false,"zero":false},"axis":null},"y":{"field":"row","type":"quantitative","scale":{"domain":[-4.85,22.565],"nice":false,"zero":false,"reverse":true},"axis":null},"text":{"field":"c3","type":"nominal"}}}
]},
{"width":990,"height":715,"data":{"name":"pd"},"layer":[
{"data":{"values":[{}]},"mark":{"type":"rect","fill":"#e5ebed"},"encoding":{"x":{"datum":-3.036,"type":"quantitative","scale":{"domain":[-3.416,5.543],"nice":false,"zero":false},"axis":null},"x2":{"datum":5.543},"y":{"datum":-4.356,"type":"quantitative","scale":{"domain":[-5.193,28.048],"nice":false,"zero":false,"reverse":true},"axis":null},"y2":{"datum":28.048}}},
{"data":{"values":[{"l":"d"}]},"mark":{"type":"text","fontSize":34,"baseline":"alphabetic","align":"center","color":"black"},"encoding":{"x":{"datum":-3.163,"type":"quantitative","scale":{"domain":[-3.416,5.543],"nice":false,"zero":false},"axis":null},"y":{"datum":-3.333,"type":"quantitative","scale":{"domain":[-5.193,28.048],"nice":false,"zero":false,"reverse":true},"axis":null},"text":{"field":"l","type":"nominal"}}},
{"data":{"values":[{}]},"mark":{"type":"rect","fill":"white"},"encoding":{"x":{"datum":-2.695,"type":"quantitative","scale":{"domain":[-3.416,5.543],"nice":false,"zero":false},"axis":null},"x2":{"datum":5.291},"y":{"datum":-3,"type":"quantitative","scale":{"domain":[-5.193,28.048],"nice":false,"zero":false,"reverse":true},"axis":null},"y2":{"datum":25}}},
{"data":{"values":[{}]},"mark":{"type":"rule","color":"#bdbdbd","strokeWidth":1},"encoding":{"x":{"datum":-2.695,"type":"quantitative","scale":{"domain":[-3.416,5.543],"nice":false,"zero":false},"axis":null},"x2":{"datum":5.291},"y":{"datum":0.25,"type":"quantitative","scale":{"domain":[-5.193,28.048],"nice":false,"zero":false,"reverse":true},"axis":null}}},
{"data":{"values":[{}]},"mark":{"type":"rule","color":"black","strokeWidth":1.6},"encoding":{"x":{"datum":-2.695,"type":"quantitative","scale":{"domain":[-3.416,5.543],"nice":false,"zero":false},"axis":null},"x2":{"datum":5.291},"y":{"datum":25,"type":"quantitative","scale":{"domain":[-5.193,28.048],"nice":false,"zero":false,"reverse":true},"axis":null}}},
{"data":{"values":[{"v":-1,"l":"-1"},{"v":0,"l":"0"},{"v":3,"l":"3"}]},"mark":{"type":"rule","color":"black","strokeWidth":1.5,"y2Offset":9},"encoding":{"x":{"field":"v","type":"quantitative","scale":{"domain":[-3.416,5.543],"nice":false,"zero":false},"axis":null},"y":{"datum":25,"type":"quantitative","scale":{"domain":[-5.193,28.048],"nice":false,"zero":false,"reverse":true},"axis":null},"y2":{"datum":25}}},
{"data":{"values":[{"v":-1,"l":"-1"},{"v":0,"l":"0"},{"v":3,"l":"3"}]},"mark":{"type":"text","baseline":"top","align":"center","dy":10,"fontSize":19,"color":"black"},"encoding":{"x":{"field":"v","type":"quantitative","scale":{"domain":[-3.416,5.543],"nice":false,"zero":false},"axis":null},"y":{"datum":25,"type":"quantitative","scale":{"domain":[-5.193,28.048],"nice":false,"zero":false,"reverse":true},"axis":null},"text":{"field":"l","type":"nominal"}}},
{"data":{"values":[{}]},"mark":{"type":"rule","color":"black","strokeWidth":1.5},"encoding":{"x":{"datum":0,"type":"quantitative","scale":{"domain":[-3.416,5.543],"nice":false,"zero":false},"axis":null},"y":{"datum":0.25,"type":"quantitative","scale":{"domain":[-5.193,28.048],"nice":false,"zero":false,"reverse":true},"axis":null},"y2":{"datum":25}}},
{"data":{"values":[{}]},"mark":{"type":"rule","color":"#b0505a","strokeWidth":1.6,"strokeDash":[4,3]},"encoding":{"x":{"datum":0.86,"type":"quantitative","scale":{"domain":[-3.416,5.543],"nice":false,"zero":false},"axis":null},"y":{"datum":0.25,"type":"quantitative","scale":{"domain":[-5.193,28.048],"nice":false,"zero":false,"reverse":true},"axis":null},"y2":{"datum":25}}},
{"transform":[{"filter":"datum.kind === 'study'"}],"mark":{"type":"square","filled":true,"color":"#bfbfbf","opacity":1},"encoding":{"x":{"field":"es","type":"quantitative","scale":{"domain":[-3.416,5.543],"nice":false,"zero":false},"axis":null},"y":{"field":"row","type":"quantitative","scale":{"domain":[-5.193,28.048],"nice":false,"zero":false,"reverse":true},"axis":null},"size":{"field":"w","type":"quantitative","scale":{"domain":[0,5],"range":[0,295]},"legend":null}}},
{"transform":[{"filter":"datum.kind === 'study'"}],"mark":{"type":"rule","color":"black","strokeWidth":2},"encoding":{"x":{"field":"lo","type":"quantitative","scale":{"domain":[-3.416,5.543],"nice":false,"zero":false},"axis":null},"x2":{"field":"hi"},"y":{"field":"row","type":"quantitative","scale":{"domain":[-5.193,28.048],"nice":false,"zero":false,"reverse":true},"axis":null}}},
{"transform":[{"filter":"datum.kind === 'study'"}],"mark":{"type":"point","shape":"M0,-1L0.6,0L0,1L-0.6,0Z","filled":true,"color":"black","size":90,"opacity":1},"encoding":{"x":{"field":"es","type":"quantitative","scale":{"domain":[-3.416,5.543],"nice":false,"zero":false},"axis":null},"y":{"field":"row","type":"quantitative","scale":{"domain":[-5.193,28.048],"nice":false,"zero":false,"reverse":true},"axis":null}}},
{"transform":[{"filter":"datum.kind === 'overall'"}],"mark":{"type":"rule","color":"#1f2d5c","strokeWidth":1.5,"y2Offset":-9.7},"encoding":{"x":{"field":"lo","type":"quantitative","scale":{"domain":[-3.416,5.543],"nice":false,"zero":false},"axis":null},"x2":{"field":"es"},"y":{"field":"row","type":"quantitative","scale":{"domain":[-5.193,28.048],"nice":false,"zero":false,"reverse":true},"axis":null},"y2":{"field":"row"}}},
{"transform":[{"filter":"datum.kind === 'overall'"}],"mark":{"type":"rule","color":"#1f2d5c","strokeWidth":1.5,"y2Offset":9.7},"encoding":{"x":{"field":"lo","type":"quantitative","scale":{"domain":[-3.416,5.543],"nice":false,"zero":false},"axis":null},"x2":{"field":"es"},"y":{"field":"row","type":"quantitative","scale":{"domain":[-5.193,28.048],"nice":false,"zero":false,"reverse":true},"axis":null},"y2":{"field":"row"}}},
{"transform":[{"filter":"datum.kind === 'overall'"}],"mark":{"type":"rule","color":"#1f2d5c","strokeWidth":1.5,"y2Offset":-9.7},"encoding":{"x":{"field":"hi","type":"quantitative","scale":{"domain":[-3.416,5.543],"nice":false,"zero":false},"axis":null},"x2":{"field":"es"},"y":{"field":"row","type":"quantitative","scale":{"domain":[-5.193,28.048],"nice":false,"zero":false,"reverse":true},"axis":null},"y2":{"field":"row"}}},
{"transform":[{"filter":"datum.kind === 'overall'"}],"mark":{"type":"rule","color":"#1f2d5c","strokeWidth":1.5,"y2Offset":9.7},"encoding":{"x":{"field":"hi","type":"quantitative","scale":{"domain":[-3.416,5.543],"nice":false,"zero":false},"axis":null},"x2":{"field":"es"},"y":{"field":"row","type":"quantitative","scale":{"domain":[-5.193,28.048],"nice":false,"zero":false,"reverse":true},"axis":null},"y2":{"field":"row"}}},
{"transform":[{"filter":"isValid(datum.c1)"}],"mark":{"type":"text","align":"left","baseline":"middle","fontSize":19,"color":"black"},"encoding":{"x":{"datum":-2.585,"type":"quantitative","scale":{"domain":[-3.416,5.543],"nice":false,"zero":false},"axis":null},"y":{"field":"row","type":"quantitative","scale":{"domain":[-5.193,28.048],"nice":false,"zero":false,"reverse":true},"axis":null},"text":{"field":"c1","type":"nominal"}}},
{"transform":[{"filter":"isValid(datum.c2)"}],"mark":{"type":"text","align":"left","baseline":"middle","fontSize":19,"color":"black"},"encoding":{"x":{"datum":3.108,"type":"quantitative","scale":{"domain":[-3.416,5.543],"nice":false,"zero":false},"axis":null},"y":{"field":"row","type":"quantitative","scale":{"domain":[-5.193,28.048],"nice":false,"zero":false,"reverse":true},"axis":null},"text":{"field":"c2","type":"nominal"}}},
{"transform":[{"filter":"isValid(datum.c3)"}],"mark":{"type":"text","align":"left","baseline":"middle","fontSize":19,"color":"black"},"encoding":{"x":{"datum":4.547,"type":"quantitative","scale":{"domain":[-3.416,5.543],"nice":false,"zero":false},"axis":null},"y":{"field":"row","type":"quantitative","scale":{"domain":[-5.193,28.048],"nice":false,"zero":false,"reverse":true},"axis":null},"text":{"field":"c3","type":"nominal"}}}
]}
],"spacing":0,"resolve":{"scale":{"size":"independent"}}},
{"hconcat":[
{"width":480,"height":636,"data":{"name":"sens"},"layer":[
{"data":{"values":[{}]},"mark":{"type":"rect","fill":"#e5ebed"},"encoding":{"x":{"datum":-1.1391,"type":"quantitative","scale":{"domain":[-1.3391,2.8348],"nice":false,"zero":false},"axis":null},"x2":{"datum":2.8348},"y":{"datum":-1.901,"type":"quantitative","scale":{"domain":[-2.539,20.014],"nice":false,"zero":false,"reverse":true},"axis":null},"y2":{"datum":20.014}}},
{"data":{"values":[{"l":"e"}]},"mark":{"type":"text","fontSize":34,"baseline":"alphabetic","align":"center","color":"black"},"encoding":{"x":{"datum":-1.2652,"type":"quantitative","scale":{"domain":[-1.3391,2.8348],"nice":false,"zero":false},"axis":null},"y":{"datum":-1.546,"type":"quantitative","scale":{"domain":[-2.539,20.014],"nice":false,"zero":false,"reverse":true},"axis":null},"text":{"field":"l","type":"nominal"}}},
{"data":{"values":[{}]},"mark":{"type":"rect","fill":"white"},"encoding":{"x":{"datum":0.1017,"type":"quantitative","scale":{"domain":[-1.3391,2.8348],"nice":false,"zero":false},"axis":null},"x2":{"datum":1.0957},"y":{"datum":-0.34,"type":"quantitative","scale":{"domain":[-2.539,20.014],"nice":false,"zero":false,"reverse":true},"axis":null},"y2":{"datum":18.35}}},
{"mark":{"type":"rule","color":"#e3e8ea","strokeWidth":1},"encoding":{"x":{"datum":0.1017,"type":"quantitative","scale":{"domain":[-1.3391,2.8348],"nice":false,"zero":false},"axis":null},"x2":{"datum":1.0957},"y":{"field":"row","type":"quantitative","scale":{"domain":[-2.539,20.014],"nice":false,"zero":false,"reverse":true},"axis":null}}},
{"transform":[{"filter":"datum.kind === 'study'"}],"mark":{"type":"rule","color":"#555555","strokeWidth":1},"encoding":{"x":{"field":"lo","type":"quantitative","scale":{"domain":[-1.3391,2.8348],"nice":false,"zero":false},"axis":null},"x2":{"field":"hi"},"y":{"field":"row","type":"quantitative","scale":{"domain":[-2.539,20.014],"nice":false,"zero":false,"reverse":true},"axis":null}}},
{"data":{"values":[{}]},"mark":{"type":"rule","color":"#d0202e","strokeWidth":2,"strokeDash":[9,4]},"encoding":{"x":{"datum":0.79,"type":"quantitative","scale":{"domain":[-1.3391,2.8348],"nice":false,"zero":false},"axis":null},"y":{"datum":-0.34,"type":"quantitative","scale":{"domain":[-2.539,20.014],"nice":false,"zero":false,"reverse":true},"axis":null},"y2":{"datum":18.35}}},
{"transform":[{"filter":"datum.kind === 'study'"}],"mark":{"type":"square","filled":true,"color":"#a9a9a9","size":75,"opacity":1},"encoding":{"x":{"field":"est","type":"quantitative","scale":{"domain":[-1.3391,2.8348],"nice":false,"zero":false},"axis":null},"y":{"field":"row","type":"quantitative","scale":{"domain":[-2.539,20.014],"nice":false,"zero":false,"reverse":true},"axis":null}}},
{"transform":[{"filter":"datum.kind === 'study'"}],"mark":{"type":"circle","color":"black","size":10,"opacity":1},"encoding":{"x":{"field":"est","type":"quantitative","scale":{"domain":[-1.3391,2.8348],"nice":false,"zero":false},"axis":null},"y":{"field":"row","type":"quantitative","scale":{"domain":[-2.539,20.014],"nice":false,"zero":false,"reverse":true},"axis":null}}},
{"transform":[{"filter":"datum.kind === 'combined'"}],"mark":{"type":"rule","color":"black","strokeWidth":1.3,"y2Offset":-5.5},"encoding":{"x":{"field":"lo","type":"quantitative","scale":{"domain":[-1.3391,2.8348],"nice":false,"zero":false},"axis":null},"x2":{"field":"est"},"y":{"field":"row","type":"quantitative","scale":{"domain":[-2.539,20.014],"nice":false,"zero":false,"reverse":true},"axis":null},"y2":{"field":"row"}}},
{"transform":[{"filter":"datum.kind === 'combined'"}],"mark":{"type":"rule","color":"black","strokeWidth":1.3,"y2Offset":5.5},"encoding":{"x":{"field":"lo","type":"quantitative","scale":{"domain":[-1.3391,2.8348],"nice":false,"zero":false},"axis":null},"x2":{"field":"est"},"y":{"field":"row","type":"quantitative","scale":{"domain":[-2.539,20.014],"nice":false,"zero":false,"reverse":true},"axis":null},"y2":{"field":"row"}}},
{"transform":[{"filter":"datum.kind === 'combined'"}],"mark":{"type":"rule","color":"black","strokeWidth":1.3,"y2Offset":-5.5},"encoding":{"x":{"field":"hi","type":"quantitative","scale":{"domain":[-1.3391,2.8348],"nice":false,"zero":false},"axis":null},"x2":{"field":"est"},"y":{"field":"row","type":"quantitative","scale":{"domain":[-2.539,20.014],"nice":false,"zero":false,"reverse":true},"axis":null},"y2":{"field":"row"}}},
{"transform":[{"filter":"datum.kind === 'combined'"}],"mark":{"type":"rule","color":"black","strokeWidth":1.3,"y2Offset":5.5},"encoding":{"x":{"field":"hi","type":"quantitative","scale":{"domain":[-1.3391,2.8348],"nice":false,"zero":false},"axis":null},"x2":{"field":"est"},"y":{"field":"row","type":"quantitative","scale":{"domain":[-2.539,20.014],"nice":false,"zero":false,"reverse":true},"axis":null},"y2":{"field":"row"}}},
{"data":{"values":[{}]},"mark":{"type":"rule","color":"#3a3a3a","strokeWidth":1.5},"encoding":{"x":{"datum":0.1017,"type":"quantitative","scale":{"domain":[-1.3391,2.8348],"nice":false,"zero":false},"axis":null},"y":{"datum":-0.34,"type":"quantitative","scale":{"domain":[-2.539,20.014],"nice":false,"zero":false,"reverse":true},"axis":null},"y2":{"datum":18.35}}},
{"data":{"values":[{}]},"mark":{"type":"rule","color":"#3a3a3a","strokeWidth":1.5},"encoding":{"x":{"datum":1.0957,"type":"quantitative","scale":{"domain":[-1.3391,2.8348],"nice":false,"zero":false},"axis":null},"y":{"datum":-0.34,"type":"quantitative","scale":{"domain":[-2.539,20.014],"nice":false,"zero":false,"reverse":true},"axis":null},"y2":{"datum":18.35}}},
{"data":{"values":[{}]},"mark":{"type":"rule","color":"#3a3a3a","strokeWidth":1.5},"encoding":{"x":{"datum":0.1017,"type":"quantitative","scale":{"domain":[-1.3391,2.8348],"nice":false,"zero":false},"axis":null},"x2":{"datum":1.0957},"y":{"datum":18.35,"type":"quantitative","scale":{"domain":[-2.539,20.014],"nice":false,"zero":false,"reverse":true},"axis":null}}},
{"data":{"values":[{"v":0.2,"l":"0.2"},{"v":1.0,"l":"1.0"}]},"mark":{"type":"rule","color":"#333333","strokeWidth":1,"y2Offset":6},"encoding":{"x":{"field":"v","type":"quantitative","scale":{"domain":[-1.3391,2.8348],"nice":false,"zero":false},"axis":null},"y":{"datum":18.35,"type":"quantitative","scale":{"domain":[-2.539,20.014],"nice":false,"zero":false,"reverse":true},"axis":null},"y2":{"datum":18.35}}},
{"data":{"values":[{"v":0.2,"l":"0.2"},{"v":1.0,"l":"1.0"}]},"mark":{"type":"text","baseline":"top","align":"center","dy":6,"fontSize":12,"color":"#111111"},"encoding":{"x":{"field":"v","type":"quantitative","scale":{"domain":[-1.3391,2.8348],"nice":false,"zero":false},"axis":null},"y":{"datum":18.35,"type":"quantitative","scale":{"domain":[-2.539,20.014],"nice":false,"zero":false,"reverse":true},"axis":null},"text":{"field":"l","type":"nominal"}}},
{"transform":[{"filter":"isValid(datum.c1)"}],"mark":{"type":"text","align":"right","baseline":"middle","fontSize":12.2,"color":"black"},"encoding":{"x":{"datum":-0.052,"type":"quantitative","scale":{"domain":[-1.3391,2.8348],"nice":false,"zero":false},"axis":null},"y":{"field":"row","type":"quantitative","scale":{"domain":[-2.539,20.014],"nice":false,"zero":false,"reverse":true},"axis":null},"text":{"field":"c1","type":"nominal"}}},
{"transform":[{"filter":"isValid(datum.c2)"}],"mark":{"type":"text","align":"left","baseline":"middle","fontSize":12.2,"color":"black"},"encoding":{"x":{"datum":1.252,"type":"quantitative","scale":{"domain":[-1.3391,2.8348],"nice":false,"zero":false},"axis":null},"y":{"field":"row","type":"quantitative","scale":{"domain":[-2.539,20.014],"nice":false,"zero":false,"reverse":true},"axis":null},"text":{"field":"c2","type":"nominal"}}},
{"data":{"values":[{"t":"SENSITIVITY"}]},"mark":{"type":"text","align":"center","baseline":"middle","fontSize":8.7,"color":"black"},"encoding":{"x":{"datum":0.6,"type":"quantitative","scale":{"domain":[-1.3391,2.8348],"nice":false,"zero":false},"axis":null},"y":{"datum":19.24,"type":"quantitative","scale":{"domain":[-2.539,20.014],"nice":false,"zero":false,"reverse":true},"axis":null},"text":{"field":"t","type":"nominal"}}}
]},
{"width":470,"height":636,"data":{"name":"spec"},"layer":[
{"data":{"values":[{}]},"mark":{"type":"rect","fill":"#e5ebed"},"encoding":{"x":{"datum":-0.851,"type":"quantitative","scale":{"domain":[-0.851,2.862],"nice":false,"zero":false},"axis":null},"x2":{"datum":2.862},"y":{"datum":-1.901,"type":"quantitative","scale":{"domain":[-2.539,20.014],"nice":false,"zero":false,"reverse":true},"axis":null},"y2":{"datum":20.014}}},
{"data":{"values":[{}]},"mark":{"type":"rect","fill":"white"},"encoding":{"x":{"datum":0.213,"type":"quantitative","scale":{"domain":[-0.851,2.862],"nice":false,"zero":false},"axis":null},"x2":{"datum":1.087},"y":{"datum":-0.34,"type":"quantitative","scale":{"domain":[-2.539,20.014],"nice":false,"zero":false,"reverse":true},"axis":null},"y2":{"datum":18.35}}},
{"mark":{"type":"rule","color":"#e3e8ea","strokeWidth":1},"encoding":{"x":{"datum":0.213,"type":"quantitative","scale":{"domain":[-0.851,2.862],"nice":false,"zero":false},"axis":null},"x2":{"datum":1.087},"y":{"field":"row","type":"quantitative","scale":{"domain":[-2.539,20.014],"nice":false,"zero":false,"reverse":true},"axis":null}}},
{"transform":[{"filter":"datum.kind === 'study'"}],"mark":{"type":"rule","color":"#555555","strokeWidth":1},"encoding":{"x":{"field":"lo","type":"quantitative","scale":{"domain":[-0.851,2.862],"nice":false,"zero":false},"axis":null},"x2":{"field":"hi"},"y":{"field":"row","type":"quantitative","scale":{"domain":[-2.539,20.014],"nice":false,"zero":false,"reverse":true},"axis":null}}},
{"data":{"values":[{}]},"mark":{"type":"rule","color":"#d0202e","strokeWidth":2,"strokeDash":[9,4]},"encoding":{"x":{"datum":0.87,"type":"quantitative","scale":{"domain":[-0.851,2.862],"nice":false,"zero":false},"axis":null},"y":{"datum":-0.34,"type":"quantitative","scale":{"domain":[-2.539,20.014],"nice":false,"zero":false,"reverse":true},"axis":null},"y2":{"datum":18.35}}},
{"transform":[{"filter":"datum.kind === 'study'"}],"mark":{"type":"square","filled":true,"color":"#a9a9a9","size":75,"opacity":1},"encoding":{"x":{"field":"est","type":"quantitative","scale":{"domain":[-0.851,2.862],"nice":false,"zero":false},"axis":null},"y":{"field":"row","type":"quantitative","scale":{"domain":[-2.539,20.014],"nice":false,"zero":false,"reverse":true},"axis":null}}},
{"transform":[{"filter":"datum.kind === 'study'"}],"mark":{"type":"circle","color":"black","size":10,"opacity":1},"encoding":{"x":{"field":"est","type":"quantitative","scale":{"domain":[-0.851,2.862],"nice":false,"zero":false},"axis":null},"y":{"field":"row","type":"quantitative","scale":{"domain":[-2.539,20.014],"nice":false,"zero":false,"reverse":true},"axis":null}}},
{"transform":[{"filter":"datum.kind === 'combined'"}],"mark":{"type":"rule","color":"black","strokeWidth":1.3,"y2Offset":-5.5},"encoding":{"x":{"field":"lo","type":"quantitative","scale":{"domain":[-0.851,2.862],"nice":false,"zero":false},"axis":null},"x2":{"field":"est"},"y":{"field":"row","type":"quantitative","scale":{"domain":[-2.539,20.014],"nice":false,"zero":false,"reverse":true},"axis":null},"y2":{"field":"row"}}},
{"transform":[{"filter":"datum.kind === 'combined'"}],"mark":{"type":"rule","color":"black","strokeWidth":1.3,"y2Offset":5.5},"encoding":{"x":{"field":"lo","type":"quantitative","scale":{"domain":[-0.851,2.862],"nice":false,"zero":false},"axis":null},"x2":{"field":"est"},"y":{"field":"row","type":"quantitative","scale":{"domain":[-2.539,20.014],"nice":false,"zero":false,"reverse":true},"axis":null},"y2":{"field":"row"}}},
{"transform":[{"filter":"datum.kind === 'combined'"}],"mark":{"type":"rule","color":"black","strokeWidth":1.3,"y2Offset":-5.5},"encoding":{"x":{"field":"hi","type":"quantitative","scale":{"domain":[-0.851,2.862],"nice":false,"zero":false},"axis":null},"x2":{"field":"est"},"y":{"field":"row","type":"quantitative","scale":{"domain":[-2.539,20.014],"nice":false,"zero":false,"reverse":true},"axis":null},"y2":{"field":"row"}}},
{"transform":[{"filter":"datum.kind === 'combined'"}],"mark":{"type":"rule","color":"black","strokeWidth":1.3,"y2Offset":5.5},"encoding":{"x":{"field":"hi","type":"quantitative","scale":{"domain":[-0.851,2.862],"nice":false,"zero":false},"axis":null},"x2":{"field":"est"},"y":{"field":"row","type":"quantitative","scale":{"domain":[-2.539,20.014],"nice":false,"zero":false,"reverse":true},"axis":null},"y2":{"field":"row"}}},
{"data":{"values":[{}]},"mark":{"type":"rule","color":"#3a3a3a","strokeWidth":1.5},"encoding":{"x":{"datum":0.213,"type":"quantitative","scale":{"domain":[-0.851,2.862],"nice":false,"zero":false},"axis":null},"y":{"datum":-0.34,"type":"quantitative","scale":{"domain":[-2.539,20.014],"nice":false,"zero":false,"reverse":true},"axis":null},"y2":{"datum":18.35}}},
{"data":{"values":[{}]},"mark":{"type":"rule","color":"#3a3a3a","strokeWidth":1.5},"encoding":{"x":{"datum":1.087,"type":"quantitative","scale":{"domain":[-0.851,2.862],"nice":false,"zero":false},"axis":null},"y":{"datum":-0.34,"type":"quantitative","scale":{"domain":[-2.539,20.014],"nice":false,"zero":false,"reverse":true},"axis":null},"y2":{"datum":18.35}}},
{"data":{"values":[{}]},"mark":{"type":"rule","color":"#3a3a3a","strokeWidth":1.5},"encoding":{"x":{"datum":0.213,"type":"quantitative","scale":{"domain":[-0.851,2.862],"nice":false,"zero":false},"axis":null},"x2":{"datum":1.087},"y":{"datum":18.35,"type":"quantitative","scale":{"domain":[-2.539,20.014],"nice":false,"zero":false,"reverse":true},"axis":null}}},
{"data":{"values":[{"v":0.3,"l":"0.3"},{"v":1.0,"l":"1.0"}]},"mark":{"type":"rule","color":"#333333","strokeWidth":1,"y2Offset":6},"encoding":{"x":{"field":"v","type":"quantitative","scale":{"domain":[-0.851,2.862],"nice":false,"zero":false},"axis":null},"y":{"datum":18.35,"type":"quantitative","scale":{"domain":[-2.539,20.014],"nice":false,"zero":false,"reverse":true},"axis":null},"y2":{"datum":18.35}}},
{"data":{"values":[{"v":0.3,"l":"0.3"},{"v":1.0,"l":"1.0"}]},"mark":{"type":"text","baseline":"top","align":"center","dy":6,"fontSize":12,"color":"#111111"},"encoding":{"x":{"field":"v","type":"quantitative","scale":{"domain":[-0.851,2.862],"nice":false,"zero":false},"axis":null},"y":{"datum":18.35,"type":"quantitative","scale":{"domain":[-2.539,20.014],"nice":false,"zero":false,"reverse":true},"axis":null},"text":{"field":"l","type":"nominal"}}},
{"transform":[{"filter":"isValid(datum.c1)"}],"mark":{"type":"text","align":"right","baseline":"middle","fontSize":12.2,"color":"black"},"encoding":{"x":{"datum":0.0735,"type":"quantitative","scale":{"domain":[-0.851,2.862],"nice":false,"zero":false},"axis":null},"y":{"field":"row","type":"quantitative","scale":{"domain":[-2.539,20.014],"nice":false,"zero":false,"reverse":true},"axis":null},"text":{"field":"c1","type":"nominal"}}},
{"transform":[{"filter":"isValid(datum.c2)"}],"mark":{"type":"text","align":"left","baseline":"middle","fontSize":12.2,"color":"black"},"encoding":{"x":{"datum":1.2275,"type":"quantitative","scale":{"domain":[-0.851,2.862],"nice":false,"zero":false},"axis":null},"y":{"field":"row","type":"quantitative","scale":{"domain":[-2.539,20.014],"nice":false,"zero":false,"reverse":true},"axis":null},"text":{"field":"c2","type":"nominal"}}},
{"data":{"values":[{"t":"SPECIFICITY"}]},"mark":{"type":"text","align":"center","baseline":"middle","fontSize":8.7,"color":"black"},"encoding":{"x":{"datum":0.65,"type":"quantitative","scale":{"domain":[-0.851,2.862],"nice":false,"zero":false},"axis":null},"y":{"datum":19.24,"type":"quantitative","scale":{"domain":[-2.539,20.014],"nice":false,"zero":false,"reverse":true},"axis":null},"text":{"field":"t","type":"nominal"}}}
]},
{"width":518,"height":636,"data":{"name":"diag"},"layer":[
{"data":{"values":[{}]},"mark":{"type":"rect","fill":"#e5ebed"},"encoding":{"x":{"datum":-11.222,"type":"quantitative","scale":{"domain":[-14.418,22.372],"nice":false,"zero":false},"axis":null},"x2":{"datum":22.372},"y":{"datum":-1.895,"type":"quantitative","scale":{"domain":[-2.605,19.964],"nice":false,"zero":false,"reverse":true},"axis":null},"y2":{"datum":19.964}}},
{"data":{"values":[{"l":"f"}]},"mark":{"type":"text","fontSize":34,"baseline":"alphabetic","align":"center","color":"black"},"encoding":{"x":{"datum":-12.358,"type":"quantitative","scale":{"domain":[-14.418,22.372],"nice":false,"zero":false},"axis":null},"y":{"datum":-1.185,"type":"quantitative","scale":{"domain":[-2.605,19.964],"nice":false,"zero":false,"reverse":true},"axis":null},"text":{"field":"l","type":"nominal"}}},
{"data":{"values":[{}]},"mark":{"type":"rect","fill":"white"},"encoding":{"x":{"datum":-0.78,"type":"quantitative","scale":{"domain":[-14.418,22.372],"nice":false,"zero":false},"axis":null},"x2":{"datum":7.5},"y":{"datum":-0.33,"type":"quantitative","scale":{"domain":[-2.605,19.964],"nice":false,"zero":false,"reverse":true},"axis":null},"y2":{"datum":18.41}}},
{"mark":{"type":"rule","color":"#e3e8ea","strokeWidth":1},"encoding":{"x":{"datum":-0.78,"type":"quantitative","scale":{"domain":[-14.418,22.372],"nice":false,"zero":false},"axis":null},"x2":{"datum":7.5},"y":{"field":"row","type":"quantitative","scale":{"domain":[-2.605,19.964],"nice":false,"zero":false,"reverse":true},"axis":null}}},
{"transform":[{"filter":"datum.kind === 'study'"}],"mark":{"type":"rule","color":"#555555","strokeWidth":1},"encoding":{"x":{"field":"lo","type":"quantitative","scale":{"domain":[-14.418,22.372],"nice":false,"zero":false},"axis":null},"x2":{"field":"hi"},"y":{"field":"row","type":"quantitative","scale":{"domain":[-2.605,19.964],"nice":false,"zero":false,"reverse":true},"axis":null}}},
{"transform":[{"filter":"datum.arrowL === true"}],"mark":{"type":"point","shape":"M2,-1L0,0L2,1","filled":false,"color":"#666666","strokeWidth":1.2,"size":100,"opacity":1},"encoding":{"x":{"field":"lo","type":"quantitative","scale":{"domain":[-14.418,22.372],"nice":false,"zero":false},"axis":null},"y":{"field":"row","type":"quantitative","scale":{"domain":[-2.605,19.964],"nice":false,"zero":false,"reverse":true},"axis":null}}},
{"data":{"values":[{}]},"mark":{"type":"rule","color":"#d0202e","strokeWidth":2,"strokeDash":[9,4]},"encoding":{"x":{"datum":3.22,"type":"quantitative","scale":{"domain":[-14.418,22.372],"nice":false,"zero":false},"axis":null},"y":{"datum":-0.33,"type":"quantitative","scale":{"domain":[-2.605,19.964],"nice":false,"zero":false,"reverse":true},"axis":null},"y2":{"datum":18.41}}},
{"transform":[{"filter":"datum.kind === 'study'"}],"mark":{"type":"square","filled":true,"color":"#a9a9a9","size":75,"opacity":1},"encoding":{"x":{"field":"est","type":"quantitative","scale":{"domain":[-14.418,22.372],"nice":false,"zero":false},"axis":null},"y":{"field":"row","type":"quantitative","scale":{"domain":[-2.605,19.964],"nice":false,"zero":false,"reverse":true},"axis":null}}},
{"transform":[{"filter":"datum.kind === 'study'"}],"mark":{"type":"circle","color":"black","size":10,"opacity":1},"encoding":{"x":{"field":"est","type":"quantitative","scale":{"domain":[-14.418,22.372],"nice":false,"zero":false},"axis":null},"y":{"field":"row","type":"quantitative","scale":{"domain":[-2.605,19.964],"nice":false,"zero":false,"reverse":true},"axis":null}}},
{"transform":[{"filter":"datum.kind === 'combined'"}],"mark":{"type":"rule","color":"black","strokeWidth":1.3,"y2Offset":-5.5},"encoding":{"x":{"field":"lo","type":"quantitative","scale":{"domain":[-14.418,22.372],"nice":false,"zero":false},"axis":null},"x2":{"field":"est"},"y":{"field":"row","type":"quantitative","scale":{"domain":[-2.605,19.964],"nice":false,"zero":false,"reverse":true},"axis":null},"y2":{"field":"row"}}},
{"transform":[{"filter":"datum.kind === 'combined'"}],"mark":{"type":"rule","color":"black","strokeWidth":1.3,"y2Offset":5.5},"encoding":{"x":{"field":"lo","type":"quantitative","scale":{"domain":[-14.418,22.372],"nice":false,"zero":false},"axis":null},"x2":{"field":"est"},"y":{"field":"row","type":"quantitative","scale":{"domain":[-2.605,19.964],"nice":false,"zero":false,"reverse":true},"axis":null},"y2":{"field":"row"}}},
{"transform":[{"filter":"datum.kind === 'combined'"}],"mark":{"type":"rule","color":"black","strokeWidth":1.3,"y2Offset":-5.5},"encoding":{"x":{"field":"hi","type":"quantitative","scale":{"domain":[-14.418,22.372],"nice":false,"zero":false},"axis":null},"x2":{"field":"est"},"y":{"field":"row","type":"quantitative","scale":{"domain":[-2.605,19.964],"nice":false,"zero":false,"reverse":true},"axis":null},"y2":{"field":"row"}}},
{"transform":[{"filter":"datum.kind === 'combined'"}],"mark":{"type":"rule","color":"black","strokeWidth":1.3,"y2Offset":5.5},"encoding":{"x":{"field":"hi","type":"quantitative","scale":{"domain":[-14.418,22.372],"nice":false,"zero":false},"axis":null},"x2":{"field":"est"},"y":{"field":"row","type":"quantitative","scale":{"domain":[-2.605,19.964],"nice":false,"zero":false,"reverse":true},"axis":null},"y2":{"field":"row"}}},
{"data":{"values":[{}]},"mark":{"type":"rule","color":"#3a3a3a","strokeWidth":1.5},"encoding":{"x":{"datum":-0.78,"type":"quantitative","scale":{"domain":[-14.418,22.372],"nice":false,"zero":false},"axis":null},"y":{"datum":-0.33,"type":"quantitative","scale":{"domain":[-2.605,19.964],"nice":false,"zero":false,"reverse":true},"axis":null},"y2":{"datum":18.41}}},
{"data":{"values":[{}]},"mark":{"type":"rule","color":"#3a3a3a","strokeWidth":1.5},"encoding":{"x":{"datum":7.5,"type":"quantitative","scale":{"domain":[-14.418,22.372],"nice":false,"zero":false},"axis":null},"y":{"datum":-0.33,"type":"quantitative","scale":{"domain":[-2.605,19.964],"nice":false,"zero":false,"reverse":true},"axis":null},"y2":{"datum":18.41}}},
{"data":{"values":[{}]},"mark":{"type":"rule","color":"#3a3a3a","strokeWidth":1.5},"encoding":{"x":{"datum":-0.78,"type":"quantitative","scale":{"domain":[-14.418,22.372],"nice":false,"zero":false},"axis":null},"x2":{"datum":7.5},"y":{"datum":18.41,"type":"quantitative","scale":{"domain":[-2.605,19.964],"nice":false,"zero":false,"reverse":true},"axis":null}}},
{"data":{"values":[{"v":0,"l":"0.0"},{"v":6.7,"l":"6.7"}]},"mark":{"type":"rule","color":"#333333","strokeWidth":1,"y2Offset":6},"encoding":{"x":{"field":"v","type":"quantitative","scale":{"domain":[-14.418,22.372],"nice":false,"zero":false},"axis":null},"y":{"datum":18.41,"type":"quantitative","scale":{"domain":[-2.605,19.964],"nice":false,"zero":false,"reverse":true},"axis":null},"y2":{"datum":18.41}}},
{"data":{"values":[{"v":0,"l":"0.0"},{"v":6.7,"l":"6.7"}]},"mark":{"type":"text","baseline":"top","align":"center","dy":7,"fontSize":12,"color":"#111111"},"encoding":{"x":{"field":"v","type":"quantitative","scale":{"domain":[-14.418,22.372],"nice":false,"zero":false},"axis":null},"y":{"datum":18.41,"type":"quantitative","scale":{"domain":[-2.605,19.964],"nice":false,"zero":false,"reverse":true},"axis":null},"text":{"field":"l","type":"nominal"}}},
{"transform":[{"filter":"isValid(datum.c1)"}],"mark":{"type":"text","align":"right","baseline":"middle","fontSize":12.2,"color":"black"},"encoding":{"x":{"datum":-2.11,"type":"quantitative","scale":{"domain":[-14.418,22.372],"nice":false,"zero":false},"axis":null},"y":{"field":"row","type":"quantitative","scale":{"domain":[-2.605,19.964],"nice":false,"zero":false,"reverse":true},"axis":null},"text":{"field":"c1","type":"nominal"}}},
{"transform":[{"filter":"isValid(datum.c2)"}],"mark":{"type":"text","align":"left","baseline":"middle","fontSize":12.2,"color":"black"},"encoding":{"x":{"datum":8.81,"type":"quantitative","scale":{"domain":[-14.418,22.372],"nice":false,"zero":false},"axis":null},"y":{"field":"row","type":"quantitative","scale":{"domain":[-2.605,19.964],"nice":false,"zero":false,"reverse":true},"axis":null},"text":{"field":"c2","type":"nominal"}}},
{"data":{"values":[{"t":"DIAGNOSTIC SCORE"}]},"mark":{"type":"text","align":"center","baseline":"middle","fontSize":8.7,"color":"black"},"encoding":{"x":{"datum":3.36,"type":"quantitative","scale":{"domain":[-14.418,22.372],"nice":false,"zero":false},"axis":null},"y":{"datum":19.25,"type":"quantitative","scale":{"domain":[-2.605,19.964],"nice":false,"zero":false,"reverse":true},"axis":null},"text":{"field":"t","type":"nominal"}}}
]},
{"width":475,"height":636,"data":{"name":"odds"},"layer":[
{"data":{"values":[{}]},"mark":{"type":"rect","fill":"#e5ebed"},"encoding":{"x":{"datum":3.195e-6,"type":"quantitative","scale":{"type":"log","domain":[3.195e-6,3.505e12],"nice":false},"axis":null},"x2":{"datum":3.505e12},"y":{"datum":-1.895,"type":"quantitative","scale":{"domain":[-2.605,19.964],"nice":false,"zero":false,"reverse":true},"axis":null},"y2":{"datum":19.964}}},
{"data":{"values":[{}]},"mark":{"type":"rect","fill":"white"},"encoding":{"x":{"datum":0.382,"type":"quantitative","scale":{"type":"log","domain":[3.195e-6,3.505e12],"nice":false},"axis":null},"x2":{"datum":2754},"y":{"datum":-0.33,"type":"quantitative","scale":{"domain":[-2.605,19.964],"nice":false,"zero":false,"reverse":true},"axis":null},"y2":{"datum":18.41}}},
{"mark":{"type":"rule","color":"#e3e8ea","strokeWidth":1},"encoding":{"x":{"datum":0.382,"type":"quantitative","scale":{"type":"log","domain":[3.195e-6,3.505e12],"nice":false},"axis":null},"x2":{"datum":2754},"y":{"field":"row","type":"quantitative","scale":{"domain":[-2.605,19.964],"nice":false,"zero":false,"reverse":true},"axis":null}}},
{"transform":[{"filter":"datum.kind === 'study'"}],"mark":{"type":"rule","color":"#555555","strokeWidth":1},"encoding":{"x":{"field":"lo","type":"quantitative","scale":{"type":"log","domain":[3.195e-6,3.505e12],"nice":false},"axis":null},"x2":{"field":"hi"},"y":{"field":"row","type":"quantitative","scale":{"domain":[-2.605,19.964],"nice":false,"zero":false,"reverse":true},"axis":null}}},
{"data":{"values":[{}]},"mark":{"type":"rule","color":"#d0202e","strokeWidth":2,"strokeDash":[9,4]},"encoding":{"x":{"datum":24.91,"type":"quantitative","scale":{"type":"log","domain":[3.195e-6,3.505e12],"nice":false},"axis":null},"y":{"datum":-0.33,"type":"quantitative","scale":{"domain":[-2.605,19.964],"nice":false,"zero":false,"reverse":true},"axis":null},"y2":{"datum":18.41}}},
{"transform":[{"filter":"datum.kind === 'study'"}],"mark":{"type":"square","filled":true,"color":"#a9a9a9","size":75,"opacity":1},"encoding":{"x":{"field":"est","type":"quantitative","scale":{"type":"log","domain":[3.195e-6,3.505e12],"nice":false},"axis":null},"y":{"field":"row","type":"quantitative","scale":{"domain":[-2.605,19.964],"nice":false,"zero":false,"reverse":true},"axis":null}}},
{"transform":[{"filter":"datum.kind === 'study'"}],"mark":{"type":"circle","color":"black","size":10,"opacity":1},"encoding":{"x":{"field":"est","type":"quantitative","scale":{"type":"log","domain":[3.195e-6,3.505e12],"nice":false},"axis":null},"y":{"field":"row","type":"quantitative","scale":{"domain":[-2.605,19.964],"nice":false,"zero":false,"reverse":true},"axis":null}}},
{"transform":[{"filter":"datum.arrowR === true"}],"mark":{"type":"point","shape":"M-1.3,-1L0,0L-1.3,1","filled":false,"color":"#b5453f","strokeWidth":1.3,"size":100,"opacity":1},"encoding":{"x":{"field":"hi","type":"quantitative","scale":{"type":"log","domain":[3.195e-6,3.505e12],"nice":false},"axis":null},"y":{"field":"row","type":"quantitative","scale":{"domain":[-2.605,19.964],"nice":false,"zero":false,"reverse":true},"axis":null}}},
{"transform":[{"filter":"datum.kind === 'combined'"}],"mark":{"type":"rule","color":"black","strokeWidth":1.3,"y2Offset":-5.5},"encoding":{"x":{"field":"lo","type":"quantitative","scale":{"type":"log","domain":[3.195e-6,3.505e12],"nice":false},"axis":null},"x2":{"field":"est"},"y":{"field":"row","type":"quantitative","scale":{"domain":[-2.605,19.964],"nice":false,"zero":false,"reverse":true},"axis":null},"y2":{"field":"row"}}},
{"transform":[{"filter":"datum.kind === 'combined'"}],"mark":{"type":"rule","color":"black","strokeWidth":1.3,"y2Offset":5.5},"encoding":{"x":{"field":"lo","type":"quantitative","scale":{"type":"log","domain":[3.195e-6,3.505e12],"nice":false},"axis":null},"x2":{"field":"est"},"y":{"field":"row","type":"quantitative","scale":{"domain":[-2.605,19.964],"nice":false,"zero":false,"reverse":true},"axis":null},"y2":{"field":"row"}}},
{"transform":[{"filter":"datum.kind === 'combined'"}],"mark":{"type":"rule","color":"black","strokeWidth":1.3,"y2Offset":-5.5},"encoding":{"x":{"field":"hi","type":"quantitative","scale":{"type":"log","domain":[3.195e-6,3.505e12],"nice":false},"axis":null},"x2":{"field":"est"},"y":{"field":"row","type":"quantitative","scale":{"domain":[-2.605,19.964],"nice":false,"zero":false,"reverse":true},"axis":null},"y2":{"field":"row"}}},
{"transform":[{"filter":"datum.kind === 'combined'"}],"mark":{"type":"rule","color":"black","strokeWidth":1.3,"y2Offset":5.5},"encoding":{"x":{"field":"hi","type":"quantitative","scale":{"type":"log","domain":[3.195e-6,3.505e12],"nice":false},"axis":null},"x2":{"field":"est"},"y":{"field":"row","type":"quantitative","scale":{"domain":[-2.605,19.964],"nice":false,"zero":false,"reverse":true},"axis":null},"y2":{"field":"row"}}},
{"data":{"values":[{}]},"mark":{"type":"rule","color":"#3a3a3a","strokeWidth":1.5},"encoding":{"x":{"datum":0.382,"type":"quantitative","scale":{"type":"log","domain":[3.195e-6,3.505e12],"nice":false},"axis":null},"y":{"datum":-0.33,"type":"quantitative","scale":{"domain":[-2.605,19.964],"nice":false,"zero":false,"reverse":true},"axis":null},"y2":{"datum":18.41}}},
{"data":{"values":[{}]},"mark":{"type":"rule","color":"#3a3a3a","strokeWidth":1.5},"encoding":{"x":{"datum":2754,"type":"quantitative","scale":{"type":"log","domain":[3.195e-6,3.505e12],"nice":false},"axis":null},"y":{"datum":-0.33,"type":"quantitative","scale":{"domain":[-2.605,19.964],"nice":false,"zero":false,"reverse":true},"axis":null},"y2":{"datum":18.41}}},
{"data":{"values":[{}]},"mark":{"type":"rule","color":"#3a3a3a","strokeWidth":1.5},"encoding":{"x":{"datum":0.382,"type":"quantitative","scale":{"type":"log","domain":[3.195e-6,3.505e12],"nice":false},"axis":null},"x2":{"datum":2754},"y":{"datum":18.41,"type":"quantitative","scale":{"domain":[-2.605,19.964],"nice":false,"zero":false,"reverse":true},"axis":null}}},
{"data":{"values":[{"v":1,"l":"1"},{"v":1000,"l":"1000"}]},"mark":{"type":"rule","color":"#333333","strokeWidth":1,"y2Offset":6},"encoding":{"x":{"field":"v","type":"quantitative","scale":{"type":"log","domain":[3.195e-6,3.505e12],"nice":false},"axis":null},"y":{"datum":18.41,"type":"quantitative","scale":{"domain":[-2.605,19.964],"nice":false,"zero":false,"reverse":true},"axis":null},"y2":{"datum":18.41}}},
{"data":{"values":[{"v":1,"l":"1"},{"v":1000,"l":"1000"}]},"mark":{"type":"text","baseline":"top","align":"center","dy":7,"fontSize":12,"color":"#111111"},"encoding":{"x":{"field":"v","type":"quantitative","scale":{"type":"log","domain":[3.195e-6,3.505e12],"nice":false},"axis":null},"y":{"datum":18.41,"type":"quantitative","scale":{"domain":[-2.605,19.964],"nice":false,"zero":false,"reverse":true},"axis":null},"text":{"field":"l","type":"nominal"}}},
{"transform":[{"filter":"isValid(datum.c1)"}],"mark":{"type":"text","align":"right","baseline":"middle","fontSize":12.2,"color":"black"},"encoding":{"x":{"datum":0.0764,"type":"quantitative","scale":{"type":"log","domain":[3.195e-6,3.505e12],"nice":false},"axis":null},"y":{"field":"row","type":"quantitative","scale":{"domain":[-2.605,19.964],"nice":false,"zero":false,"reverse":true},"axis":null},"text":{"field":"c1","type":"nominal"}}},
{"transform":[{"filter":"isValid(datum.c2)"}],"mark":{"type":"text","align":"left","baseline":"middle","fontSize":12.2,"color":"black"},"encoding":{"x":{"datum":13800,"type":"quantitative","scale":{"type":"log","domain":[3.195e-6,3.505e12],"nice":false},"axis":null},"y":{"field":"row","type":"quantitative","scale":{"domain":[-2.605,19.964],"nice":false,"zero":false,"reverse":true},"axis":null},"text":{"field":"c2","type":"nominal"}}},
{"data":{"values":[{"t":"ODDS RATIO"}]},"mark":{"type":"text","align":"center","baseline":"middle","fontSize":8.7,"color":"black"},"encoding":{"x":{"datum":31.9,"type":"quantitative","scale":{"type":"log","domain":[3.195e-6,3.505e12],"nice":false},"axis":null},"y":{"datum":19.25,"type":"quantitative","scale":{"domain":[-2.605,19.964],"nice":false,"zero":false,"reverse":true},"axis":null},"text":{"field":"t","type":"nominal"}}}
]}
],"spacing":0,"resolve":{"scale":{"size":"independent"}}}
]
}
